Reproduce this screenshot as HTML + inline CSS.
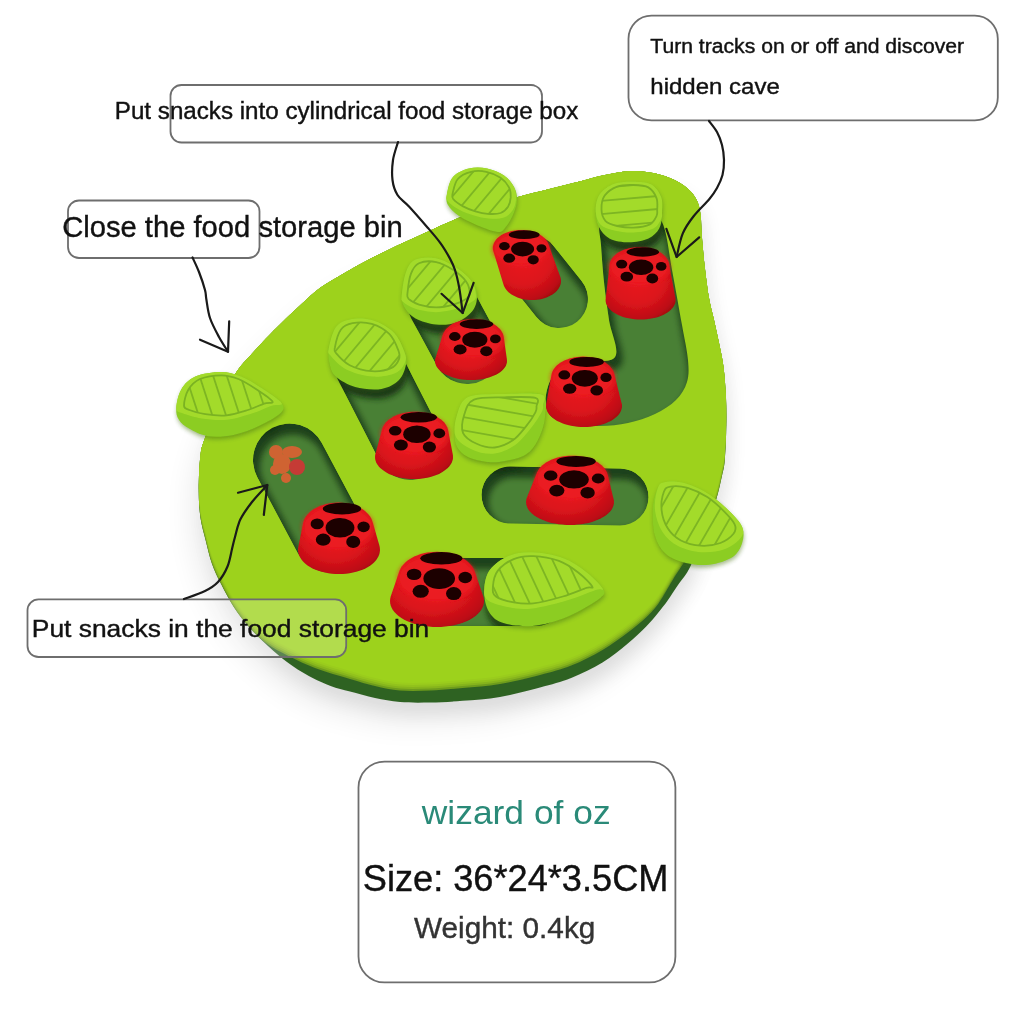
<!DOCTYPE html><html><head><meta charset="utf-8"><style>html,body{margin:0;padding:0;background:#fff;width:1024px;height:1024px;overflow:hidden}svg{display:block}</style></head><body><svg width="1024" height="1024" viewBox="0 0 1024 1024"><defs>
<linearGradient id="redbody" x1="0" y1="0" x2="1" y2="0.3"><stop offset="0" stop-color="#c80f17"/><stop offset="0.3" stop-color="#e0161e"/><stop offset="0.75" stop-color="#c20e15"/><stop offset="1" stop-color="#8e080d"/></linearGradient>
<radialGradient id="redtop" cx="0.42" cy="0.45" r="0.65"><stop offset="0" stop-color="#f22028"/><stop offset="0.8" stop-color="#e8181f"/><stop offset="1" stop-color="#d0121a"/></radialGradient>
<filter id="blur8" x="-20%" y="-20%" width="140%" height="140%"><feGaussianBlur stdDeviation="9"/></filter>
<filter id="blur14" x="-30%" y="-30%" width="160%" height="160%"><feGaussianBlur stdDeviation="14"/></filter>
<filter id="blur3" x="-20%" y="-20%" width="140%" height="140%"><feGaussianBlur stdDeviation="3"/></filter>
<filter id="blur06" x="-10%" y="-10%" width="120%" height="120%"><feGaussianBlur stdDeviation="0.6"/></filter>
<filter id="blur2" x="-20%" y="-20%" width="140%" height="140%"><feGaussianBlur stdDeviation="2"/></filter>
<radialGradient id="redsil" cx="0.45" cy="0.38" r="0.72"><stop offset="0" stop-color="#ec1a22"/><stop offset="0.55" stop-color="#dc141c"/><stop offset="0.85" stop-color="#bd0d14"/><stop offset="1" stop-color="#96080c"/></radialGradient>
<clipPath id="boardclip"><path d="M 198.7,490.0 C 198.7,479.5 199.4,463.7 200.5,455.0 C 201.6,446.3 202.3,446.1 205.2,437.6 C 208.1,429.1 212.7,415.0 218.0,404.0 C 223.3,393.0 231.3,379.6 236.8,371.4 C 242.3,363.2 245.9,360.4 250.8,354.9 C 255.7,349.4 260.7,343.9 266.0,338.4 C 271.3,332.9 276.6,327.6 282.5,321.9 C 288.4,316.2 295.2,309.7 301.6,304.0 C 308.0,298.3 313.3,292.9 320.6,287.6 C 327.9,282.4 337.0,277.3 345.4,272.5 C 353.8,267.7 362.3,263.0 370.8,258.6 C 379.3,254.2 387.7,249.9 396.2,245.9 C 404.7,241.9 413.1,238.2 421.6,234.4 C 430.1,230.6 436.8,227.4 447.0,223.0 C 457.2,218.6 471.2,212.3 483.0,208.0 C 494.8,203.7 506.9,200.1 518.0,196.9 C 529.1,193.7 539.0,191.6 549.4,189.0 C 559.8,186.4 571.3,183.6 580.6,181.2 C 589.9,178.9 596.6,176.7 605.0,175.0 C 613.4,173.3 622.7,171.3 631.0,171.0 C 639.3,170.7 647.4,171.8 654.7,173.3 C 662.0,174.9 669.3,177.6 675.0,180.3 C 680.7,183.0 685.4,186.3 689.0,189.7 C 692.6,193.1 695.0,196.5 696.9,200.6 C 698.8,204.7 699.6,207.8 700.5,214.0 C 701.4,220.2 701.2,228.8 702.0,238.0 C 702.8,247.2 703.8,259.0 705.0,269.0 C 706.2,279.0 707.5,289.5 709.0,298.0 C 710.5,306.5 712.3,312.5 714.0,320.0 C 715.7,327.5 717.4,335.2 719.0,343.0 C 720.6,350.8 722.3,357.8 723.5,367.0 C 724.7,376.2 725.5,387.6 726.0,398.0 C 726.5,408.4 726.5,419.0 726.2,429.4 C 726.0,439.8 725.4,452.8 724.7,460.6 C 724.0,468.4 723.4,469.4 721.9,476.0 C 720.4,482.6 718.8,491.5 716.0,500.0 C 713.2,508.5 710.3,516.7 705.0,527.0 C 699.7,537.3 689.7,553.0 684.4,561.6 C 679.1,570.2 677.7,571.9 673.4,578.8 C 669.1,585.6 663.3,596.6 658.8,603.0 C 654.2,609.4 651.5,612.2 646.2,617.2 C 641.0,622.2 634.8,627.3 627.5,632.8 C 620.2,638.3 611.9,644.5 602.5,650.0 C 593.1,655.5 581.7,661.4 571.2,665.6 C 560.8,669.8 551.9,671.9 540.0,675.0 C 528.1,678.1 512.9,681.8 500.0,684.0 C 487.1,686.2 474.2,686.9 462.5,688.0 C 450.8,689.1 440.4,690.1 430.0,690.5 C 419.6,690.9 409.2,691.2 400.0,690.5 C 390.8,689.8 383.3,687.9 375.0,686.0 C 366.7,684.1 360.0,682.0 350.0,679.0 C 340.0,676.0 326.0,672.2 315.0,668.0 C 304.0,663.8 291.9,657.7 283.8,653.5 C 275.6,649.3 271.7,647.3 266.0,643.0 C 260.3,638.7 254.8,633.5 249.4,627.5 C 244.0,621.5 238.5,614.3 233.8,607.0 C 229.1,599.7 224.7,591.1 221.0,583.8 C 217.3,576.5 214.5,570.7 211.9,563.4 C 209.3,556.1 207.5,547.6 205.6,540.0 C 203.7,532.4 201.7,526.3 200.5,518.0 C 199.3,509.7 198.7,500.5 198.7,490.0 Z"/></clipPath>
<filter id="soft" filterUnits="userSpaceOnUse" x="0" y="0" width="1024" height="1024"><feGaussianBlur stdDeviation="0.55"/></filter>
</defs>
<path d="M 198.7,490.0 C 198.7,479.5 199.4,463.7 200.5,455.0 C 201.6,446.3 202.3,446.1 205.2,437.6 C 208.1,429.1 212.7,415.0 218.0,404.0 C 223.3,393.0 231.3,379.6 236.8,371.4 C 242.3,363.2 245.9,360.4 250.8,354.9 C 255.7,349.4 260.7,343.9 266.0,338.4 C 271.3,332.9 276.6,327.6 282.5,321.9 C 288.4,316.2 295.2,309.7 301.6,304.0 C 308.0,298.3 313.3,292.9 320.6,287.6 C 327.9,282.4 337.0,277.3 345.4,272.5 C 353.8,267.7 362.3,263.0 370.8,258.6 C 379.3,254.2 387.7,249.9 396.2,245.9 C 404.7,241.9 413.1,238.2 421.6,234.4 C 430.1,230.6 436.8,227.4 447.0,223.0 C 457.2,218.6 471.2,212.3 483.0,208.0 C 494.8,203.7 506.9,200.1 518.0,196.9 C 529.1,193.7 539.0,191.6 549.4,189.0 C 559.8,186.4 571.3,183.6 580.6,181.2 C 589.9,178.9 596.6,176.7 605.0,175.0 C 613.4,173.3 622.7,171.3 631.0,171.0 C 639.3,170.7 647.4,171.8 654.7,173.3 C 662.0,174.9 669.3,177.6 675.0,180.3 C 680.7,183.0 685.4,186.3 689.0,189.7 C 692.6,193.1 695.0,196.5 696.9,200.6 C 698.8,204.7 699.6,207.8 700.5,214.0 C 701.4,220.2 701.2,228.8 702.0,238.0 C 702.8,247.2 703.8,259.0 705.0,269.0 C 706.2,279.0 707.5,289.5 709.0,298.0 C 710.5,306.5 712.3,312.5 714.0,320.0 C 715.7,327.5 717.4,335.2 719.0,343.0 C 720.6,350.8 722.3,357.8 723.5,367.0 C 724.7,376.2 725.5,387.6 726.0,398.0 C 726.5,408.4 726.5,419.0 726.2,429.4 C 726.0,439.8 725.4,452.8 724.7,460.6 C 724.0,468.4 723.4,469.4 721.9,476.0 C 720.4,482.6 718.8,491.5 716.0,500.0 C 713.2,508.5 709.2,516.0 705.0,527.0 C 700.8,538.0 695.1,556.3 690.6,566.0 C 686.1,575.7 681.8,579.3 678.0,585.0 C 674.2,590.7 671.3,595.3 668.0,600.0 C 664.7,604.7 661.6,608.6 658.0,613.0 C 654.4,617.4 651.3,621.4 646.2,626.5 C 641.2,631.6 634.8,637.8 627.5,643.8 C 620.2,649.8 611.9,656.8 602.5,662.5 C 593.1,668.2 581.7,673.8 571.2,678.0 C 560.8,682.2 551.9,684.3 540.0,687.5 C 528.1,690.7 512.9,694.8 500.0,697.0 C 487.1,699.2 474.2,699.9 462.5,700.8 C 450.8,701.7 440.4,702.3 430.0,702.5 C 419.6,702.7 409.2,702.8 400.0,702.0 C 390.8,701.2 383.3,699.7 375.0,698.0 C 366.7,696.3 357.4,693.6 350.0,691.6 C 342.6,689.6 337.5,688.6 330.6,686.0 C 323.7,683.4 316.0,680.0 308.8,676.0 C 301.5,672.0 293.8,667.0 287.0,662.0 C 280.2,657.0 274.3,651.8 268.0,646.0 C 261.7,640.2 255.1,634.0 249.4,627.5 C 243.7,621.0 238.5,614.3 233.8,607.0 C 229.1,599.7 224.7,591.1 221.0,583.8 C 217.3,576.5 214.5,570.7 211.9,563.4 C 209.3,556.1 207.5,547.6 205.6,540.0 C 203.7,532.4 201.7,526.3 200.5,518.0 C 199.3,509.7 198.7,500.5 198.7,490.0 Z" fill="#000" opacity="0.07" transform="translate(-8,22)" filter="url(#blur14)"/>
<path d="M 198.7,490.0 C 198.7,479.5 199.4,463.7 200.5,455.0 C 201.6,446.3 202.3,446.1 205.2,437.6 C 208.1,429.1 212.7,415.0 218.0,404.0 C 223.3,393.0 231.3,379.6 236.8,371.4 C 242.3,363.2 245.9,360.4 250.8,354.9 C 255.7,349.4 260.7,343.9 266.0,338.4 C 271.3,332.9 276.6,327.6 282.5,321.9 C 288.4,316.2 295.2,309.7 301.6,304.0 C 308.0,298.3 313.3,292.9 320.6,287.6 C 327.9,282.4 337.0,277.3 345.4,272.5 C 353.8,267.7 362.3,263.0 370.8,258.6 C 379.3,254.2 387.7,249.9 396.2,245.9 C 404.7,241.9 413.1,238.2 421.6,234.4 C 430.1,230.6 436.8,227.4 447.0,223.0 C 457.2,218.6 471.2,212.3 483.0,208.0 C 494.8,203.7 506.9,200.1 518.0,196.9 C 529.1,193.7 539.0,191.6 549.4,189.0 C 559.8,186.4 571.3,183.6 580.6,181.2 C 589.9,178.9 596.6,176.7 605.0,175.0 C 613.4,173.3 622.7,171.3 631.0,171.0 C 639.3,170.7 647.4,171.8 654.7,173.3 C 662.0,174.9 669.3,177.6 675.0,180.3 C 680.7,183.0 685.4,186.3 689.0,189.7 C 692.6,193.1 695.0,196.5 696.9,200.6 C 698.8,204.7 699.6,207.8 700.5,214.0 C 701.4,220.2 701.2,228.8 702.0,238.0 C 702.8,247.2 703.8,259.0 705.0,269.0 C 706.2,279.0 707.5,289.5 709.0,298.0 C 710.5,306.5 712.3,312.5 714.0,320.0 C 715.7,327.5 717.4,335.2 719.0,343.0 C 720.6,350.8 722.3,357.8 723.5,367.0 C 724.7,376.2 725.5,387.6 726.0,398.0 C 726.5,408.4 726.5,419.0 726.2,429.4 C 726.0,439.8 725.4,452.8 724.7,460.6 C 724.0,468.4 723.4,469.4 721.9,476.0 C 720.4,482.6 718.8,491.5 716.0,500.0 C 713.2,508.5 709.2,516.0 705.0,527.0 C 700.8,538.0 695.1,556.3 690.6,566.0 C 686.1,575.7 681.8,579.3 678.0,585.0 C 674.2,590.7 671.3,595.3 668.0,600.0 C 664.7,604.7 661.6,608.6 658.0,613.0 C 654.4,617.4 651.3,621.4 646.2,626.5 C 641.2,631.6 634.8,637.8 627.5,643.8 C 620.2,649.8 611.9,656.8 602.5,662.5 C 593.1,668.2 581.7,673.8 571.2,678.0 C 560.8,682.2 551.9,684.3 540.0,687.5 C 528.1,690.7 512.9,694.8 500.0,697.0 C 487.1,699.2 474.2,699.9 462.5,700.8 C 450.8,701.7 440.4,702.3 430.0,702.5 C 419.6,702.7 409.2,702.8 400.0,702.0 C 390.8,701.2 383.3,699.7 375.0,698.0 C 366.7,696.3 357.4,693.6 350.0,691.6 C 342.6,689.6 337.5,688.6 330.6,686.0 C 323.7,683.4 316.0,680.0 308.8,676.0 C 301.5,672.0 293.8,667.0 287.0,662.0 C 280.2,657.0 274.3,651.8 268.0,646.0 C 261.7,640.2 255.1,634.0 249.4,627.5 C 243.7,621.0 238.5,614.3 233.8,607.0 C 229.1,599.7 224.7,591.1 221.0,583.8 C 217.3,576.5 214.5,570.7 211.9,563.4 C 209.3,556.1 207.5,547.6 205.6,540.0 C 203.7,532.4 201.7,526.3 200.5,518.0 C 199.3,509.7 198.7,500.5 198.7,490.0 Z" fill="#000" opacity="0.07" transform="translate(5,12)" filter="url(#blur8)"/>
<g filter="url(#soft)">
<path d="M 198.7,490.0 C 198.7,479.5 199.4,463.7 200.5,455.0 C 201.6,446.3 202.3,446.1 205.2,437.6 C 208.1,429.1 212.7,415.0 218.0,404.0 C 223.3,393.0 231.3,379.6 236.8,371.4 C 242.3,363.2 245.9,360.4 250.8,354.9 C 255.7,349.4 260.7,343.9 266.0,338.4 C 271.3,332.9 276.6,327.6 282.5,321.9 C 288.4,316.2 295.2,309.7 301.6,304.0 C 308.0,298.3 313.3,292.9 320.6,287.6 C 327.9,282.4 337.0,277.3 345.4,272.5 C 353.8,267.7 362.3,263.0 370.8,258.6 C 379.3,254.2 387.7,249.9 396.2,245.9 C 404.7,241.9 413.1,238.2 421.6,234.4 C 430.1,230.6 436.8,227.4 447.0,223.0 C 457.2,218.6 471.2,212.3 483.0,208.0 C 494.8,203.7 506.9,200.1 518.0,196.9 C 529.1,193.7 539.0,191.6 549.4,189.0 C 559.8,186.4 571.3,183.6 580.6,181.2 C 589.9,178.9 596.6,176.7 605.0,175.0 C 613.4,173.3 622.7,171.3 631.0,171.0 C 639.3,170.7 647.4,171.8 654.7,173.3 C 662.0,174.9 669.3,177.6 675.0,180.3 C 680.7,183.0 685.4,186.3 689.0,189.7 C 692.6,193.1 695.0,196.5 696.9,200.6 C 698.8,204.7 699.6,207.8 700.5,214.0 C 701.4,220.2 701.2,228.8 702.0,238.0 C 702.8,247.2 703.8,259.0 705.0,269.0 C 706.2,279.0 707.5,289.5 709.0,298.0 C 710.5,306.5 712.3,312.5 714.0,320.0 C 715.7,327.5 717.4,335.2 719.0,343.0 C 720.6,350.8 722.3,357.8 723.5,367.0 C 724.7,376.2 725.5,387.6 726.0,398.0 C 726.5,408.4 726.5,419.0 726.2,429.4 C 726.0,439.8 725.4,452.8 724.7,460.6 C 724.0,468.4 723.4,469.4 721.9,476.0 C 720.4,482.6 718.8,491.5 716.0,500.0 C 713.2,508.5 709.2,516.0 705.0,527.0 C 700.8,538.0 695.1,556.3 690.6,566.0 C 686.1,575.7 681.8,579.3 678.0,585.0 C 674.2,590.7 671.3,595.3 668.0,600.0 C 664.7,604.7 661.6,608.6 658.0,613.0 C 654.4,617.4 651.3,621.4 646.2,626.5 C 641.2,631.6 634.8,637.8 627.5,643.8 C 620.2,649.8 611.9,656.8 602.5,662.5 C 593.1,668.2 581.7,673.8 571.2,678.0 C 560.8,682.2 551.9,684.3 540.0,687.5 C 528.1,690.7 512.9,694.8 500.0,697.0 C 487.1,699.2 474.2,699.9 462.5,700.8 C 450.8,701.7 440.4,702.3 430.0,702.5 C 419.6,702.7 409.2,702.8 400.0,702.0 C 390.8,701.2 383.3,699.7 375.0,698.0 C 366.7,696.3 357.4,693.6 350.0,691.6 C 342.6,689.6 337.5,688.6 330.6,686.0 C 323.7,683.4 316.0,680.0 308.8,676.0 C 301.5,672.0 293.8,667.0 287.0,662.0 C 280.2,657.0 274.3,651.8 268.0,646.0 C 261.7,640.2 255.1,634.0 249.4,627.5 C 243.7,621.0 238.5,614.3 233.8,607.0 C 229.1,599.7 224.7,591.1 221.0,583.8 C 217.3,576.5 214.5,570.7 211.9,563.4 C 209.3,556.1 207.5,547.6 205.6,540.0 C 203.7,532.4 201.7,526.3 200.5,518.0 C 199.3,509.7 198.7,500.5 198.7,490.0 Z" fill="#2f6224"/>
<path d="M 198.7,490.0 C 198.7,479.5 199.4,463.7 200.5,455.0 C 201.6,446.3 202.3,446.1 205.2,437.6 C 208.1,429.1 212.7,415.0 218.0,404.0 C 223.3,393.0 231.3,379.6 236.8,371.4 C 242.3,363.2 245.9,360.4 250.8,354.9 C 255.7,349.4 260.7,343.9 266.0,338.4 C 271.3,332.9 276.6,327.6 282.5,321.9 C 288.4,316.2 295.2,309.7 301.6,304.0 C 308.0,298.3 313.3,292.9 320.6,287.6 C 327.9,282.4 337.0,277.3 345.4,272.5 C 353.8,267.7 362.3,263.0 370.8,258.6 C 379.3,254.2 387.7,249.9 396.2,245.9 C 404.7,241.9 413.1,238.2 421.6,234.4 C 430.1,230.6 436.8,227.4 447.0,223.0 C 457.2,218.6 471.2,212.3 483.0,208.0 C 494.8,203.7 506.9,200.1 518.0,196.9 C 529.1,193.7 539.0,191.6 549.4,189.0 C 559.8,186.4 571.3,183.6 580.6,181.2 C 589.9,178.9 596.6,176.7 605.0,175.0 C 613.4,173.3 622.7,171.3 631.0,171.0 C 639.3,170.7 647.4,171.8 654.7,173.3 C 662.0,174.9 669.3,177.6 675.0,180.3 C 680.7,183.0 685.4,186.3 689.0,189.7 C 692.6,193.1 695.0,196.5 696.9,200.6 C 698.8,204.7 699.6,207.8 700.5,214.0 C 701.4,220.2 701.2,228.8 702.0,238.0 C 702.8,247.2 703.8,259.0 705.0,269.0 C 706.2,279.0 707.5,289.5 709.0,298.0 C 710.5,306.5 712.3,312.5 714.0,320.0 C 715.7,327.5 717.4,335.2 719.0,343.0 C 720.6,350.8 722.3,357.8 723.5,367.0 C 724.7,376.2 725.5,387.6 726.0,398.0 C 726.5,408.4 726.5,419.0 726.2,429.4 C 726.0,439.8 725.4,452.8 724.7,460.6 C 724.0,468.4 723.4,469.4 721.9,476.0 C 720.4,482.6 718.8,491.5 716.0,500.0 C 713.2,508.5 710.3,516.7 705.0,527.0 C 699.7,537.3 689.7,553.0 684.4,561.6 C 679.1,570.2 677.7,571.9 673.4,578.8 C 669.1,585.6 663.3,596.6 658.8,603.0 C 654.2,609.4 651.5,612.2 646.2,617.2 C 641.0,622.2 634.8,627.3 627.5,632.8 C 620.2,638.3 611.9,644.5 602.5,650.0 C 593.1,655.5 581.7,661.4 571.2,665.6 C 560.8,669.8 551.9,671.9 540.0,675.0 C 528.1,678.1 512.9,681.8 500.0,684.0 C 487.1,686.2 474.2,686.9 462.5,688.0 C 450.8,689.1 440.4,690.1 430.0,690.5 C 419.6,690.9 409.2,691.2 400.0,690.5 C 390.8,689.8 383.3,687.9 375.0,686.0 C 366.7,684.1 360.0,682.0 350.0,679.0 C 340.0,676.0 326.0,672.2 315.0,668.0 C 304.0,663.8 291.9,657.7 283.8,653.5 C 275.6,649.3 271.7,647.3 266.0,643.0 C 260.3,638.7 254.8,633.5 249.4,627.5 C 244.0,621.5 238.5,614.3 233.8,607.0 C 229.1,599.7 224.7,591.1 221.0,583.8 C 217.3,576.5 214.5,570.7 211.9,563.4 C 209.3,556.1 207.5,547.6 205.6,540.0 C 203.7,532.4 201.7,526.3 200.5,518.0 C 199.3,509.7 198.7,500.5 198.7,490.0 Z" fill="#6e9c1c"/>
<g clip-path="url(#boardclip)"><path d="M 198.7,490.0 C 198.7,479.5 199.4,463.7 200.5,455.0 C 201.6,446.3 202.3,446.1 205.2,437.6 C 208.1,429.1 212.7,415.0 218.0,404.0 C 223.3,393.0 231.3,379.6 236.8,371.4 C 242.3,363.2 245.9,360.4 250.8,354.9 C 255.7,349.4 260.7,343.9 266.0,338.4 C 271.3,332.9 276.6,327.6 282.5,321.9 C 288.4,316.2 295.2,309.7 301.6,304.0 C 308.0,298.3 313.3,292.9 320.6,287.6 C 327.9,282.4 337.0,277.3 345.4,272.5 C 353.8,267.7 362.3,263.0 370.8,258.6 C 379.3,254.2 387.7,249.9 396.2,245.9 C 404.7,241.9 413.1,238.2 421.6,234.4 C 430.1,230.6 436.8,227.4 447.0,223.0 C 457.2,218.6 471.2,212.3 483.0,208.0 C 494.8,203.7 506.9,200.1 518.0,196.9 C 529.1,193.7 539.0,191.6 549.4,189.0 C 559.8,186.4 571.3,183.6 580.6,181.2 C 589.9,178.9 596.6,176.7 605.0,175.0 C 613.4,173.3 622.7,171.3 631.0,171.0 C 639.3,170.7 647.4,171.8 654.7,173.3 C 662.0,174.9 669.3,177.6 675.0,180.3 C 680.7,183.0 685.4,186.3 689.0,189.7 C 692.6,193.1 695.0,196.5 696.9,200.6 C 698.8,204.7 699.6,207.8 700.5,214.0 C 701.4,220.2 701.2,228.8 702.0,238.0 C 702.8,247.2 703.8,259.0 705.0,269.0 C 706.2,279.0 707.5,289.5 709.0,298.0 C 710.5,306.5 712.3,312.5 714.0,320.0 C 715.7,327.5 717.4,335.2 719.0,343.0 C 720.6,350.8 722.3,357.8 723.5,367.0 C 724.7,376.2 725.5,387.6 726.0,398.0 C 726.5,408.4 726.5,419.0 726.2,429.4 C 726.0,439.8 725.4,452.8 724.7,460.6 C 724.0,468.4 723.4,469.4 721.9,476.0 C 720.4,482.6 718.8,491.5 716.0,500.0 C 713.2,508.5 710.3,516.7 705.0,527.0 C 699.7,537.3 689.7,553.0 684.4,561.6 C 679.1,570.2 677.7,571.9 673.4,578.8 C 669.1,585.6 663.3,596.6 658.8,603.0 C 654.2,609.4 651.5,612.2 646.2,617.2 C 641.0,622.2 634.8,627.3 627.5,632.8 C 620.2,638.3 611.9,644.5 602.5,650.0 C 593.1,655.5 581.7,661.4 571.2,665.6 C 560.8,669.8 551.9,671.9 540.0,675.0 C 528.1,678.1 512.9,681.8 500.0,684.0 C 487.1,686.2 474.2,686.9 462.5,688.0 C 450.8,689.1 440.4,690.1 430.0,690.5 C 419.6,690.9 409.2,691.2 400.0,690.5 C 390.8,689.8 383.3,687.9 375.0,686.0 C 366.7,684.1 360.0,682.0 350.0,679.0 C 340.0,676.0 326.0,672.2 315.0,668.0 C 304.0,663.8 291.9,657.7 283.8,653.5 C 275.6,649.3 271.7,647.3 266.0,643.0 C 260.3,638.7 254.8,633.5 249.4,627.5 C 244.0,621.5 238.5,614.3 233.8,607.0 C 229.1,599.7 224.7,591.1 221.0,583.8 C 217.3,576.5 214.5,570.7 211.9,563.4 C 209.3,556.1 207.5,547.6 205.6,540.0 C 203.7,532.4 201.7,526.3 200.5,518.0 C 199.3,509.7 198.7,500.5 198.7,490.0 Z" fill="#86b41d" transform="translate(0,-2)"/><path d="M 198.7,490.0 C 198.7,479.5 199.4,463.7 200.5,455.0 C 201.6,446.3 202.3,446.1 205.2,437.6 C 208.1,429.1 212.7,415.0 218.0,404.0 C 223.3,393.0 231.3,379.6 236.8,371.4 C 242.3,363.2 245.9,360.4 250.8,354.9 C 255.7,349.4 260.7,343.9 266.0,338.4 C 271.3,332.9 276.6,327.6 282.5,321.9 C 288.4,316.2 295.2,309.7 301.6,304.0 C 308.0,298.3 313.3,292.9 320.6,287.6 C 327.9,282.4 337.0,277.3 345.4,272.5 C 353.8,267.7 362.3,263.0 370.8,258.6 C 379.3,254.2 387.7,249.9 396.2,245.9 C 404.7,241.9 413.1,238.2 421.6,234.4 C 430.1,230.6 436.8,227.4 447.0,223.0 C 457.2,218.6 471.2,212.3 483.0,208.0 C 494.8,203.7 506.9,200.1 518.0,196.9 C 529.1,193.7 539.0,191.6 549.4,189.0 C 559.8,186.4 571.3,183.6 580.6,181.2 C 589.9,178.9 596.6,176.7 605.0,175.0 C 613.4,173.3 622.7,171.3 631.0,171.0 C 639.3,170.7 647.4,171.8 654.7,173.3 C 662.0,174.9 669.3,177.6 675.0,180.3 C 680.7,183.0 685.4,186.3 689.0,189.7 C 692.6,193.1 695.0,196.5 696.9,200.6 C 698.8,204.7 699.6,207.8 700.5,214.0 C 701.4,220.2 701.2,228.8 702.0,238.0 C 702.8,247.2 703.8,259.0 705.0,269.0 C 706.2,279.0 707.5,289.5 709.0,298.0 C 710.5,306.5 712.3,312.5 714.0,320.0 C 715.7,327.5 717.4,335.2 719.0,343.0 C 720.6,350.8 722.3,357.8 723.5,367.0 C 724.7,376.2 725.5,387.6 726.0,398.0 C 726.5,408.4 726.5,419.0 726.2,429.4 C 726.0,439.8 725.4,452.8 724.7,460.6 C 724.0,468.4 723.4,469.4 721.9,476.0 C 720.4,482.6 718.8,491.5 716.0,500.0 C 713.2,508.5 710.3,516.7 705.0,527.0 C 699.7,537.3 689.7,553.0 684.4,561.6 C 679.1,570.2 677.7,571.9 673.4,578.8 C 669.1,585.6 663.3,596.6 658.8,603.0 C 654.2,609.4 651.5,612.2 646.2,617.2 C 641.0,622.2 634.8,627.3 627.5,632.8 C 620.2,638.3 611.9,644.5 602.5,650.0 C 593.1,655.5 581.7,661.4 571.2,665.6 C 560.8,669.8 551.9,671.9 540.0,675.0 C 528.1,678.1 512.9,681.8 500.0,684.0 C 487.1,686.2 474.2,686.9 462.5,688.0 C 450.8,689.1 440.4,690.1 430.0,690.5 C 419.6,690.9 409.2,691.2 400.0,690.5 C 390.8,689.8 383.3,687.9 375.0,686.0 C 366.7,684.1 360.0,682.0 350.0,679.0 C 340.0,676.0 326.0,672.2 315.0,668.0 C 304.0,663.8 291.9,657.7 283.8,653.5 C 275.6,649.3 271.7,647.3 266.0,643.0 C 260.3,638.7 254.8,633.5 249.4,627.5 C 244.0,621.5 238.5,614.3 233.8,607.0 C 229.1,599.7 224.7,591.1 221.0,583.8 C 217.3,576.5 214.5,570.7 211.9,563.4 C 209.3,556.1 207.5,547.6 205.6,540.0 C 203.7,532.4 201.7,526.3 200.5,518.0 C 199.3,509.7 198.7,500.5 198.7,490.0 Z" fill="#92c21e" transform="translate(0,-4)"/><path d="M 198.7,490.0 C 198.7,479.5 199.4,463.7 200.5,455.0 C 201.6,446.3 202.3,446.1 205.2,437.6 C 208.1,429.1 212.7,415.0 218.0,404.0 C 223.3,393.0 231.3,379.6 236.8,371.4 C 242.3,363.2 245.9,360.4 250.8,354.9 C 255.7,349.4 260.7,343.9 266.0,338.4 C 271.3,332.9 276.6,327.6 282.5,321.9 C 288.4,316.2 295.2,309.7 301.6,304.0 C 308.0,298.3 313.3,292.9 320.6,287.6 C 327.9,282.4 337.0,277.3 345.4,272.5 C 353.8,267.7 362.3,263.0 370.8,258.6 C 379.3,254.2 387.7,249.9 396.2,245.9 C 404.7,241.9 413.1,238.2 421.6,234.4 C 430.1,230.6 436.8,227.4 447.0,223.0 C 457.2,218.6 471.2,212.3 483.0,208.0 C 494.8,203.7 506.9,200.1 518.0,196.9 C 529.1,193.7 539.0,191.6 549.4,189.0 C 559.8,186.4 571.3,183.6 580.6,181.2 C 589.9,178.9 596.6,176.7 605.0,175.0 C 613.4,173.3 622.7,171.3 631.0,171.0 C 639.3,170.7 647.4,171.8 654.7,173.3 C 662.0,174.9 669.3,177.6 675.0,180.3 C 680.7,183.0 685.4,186.3 689.0,189.7 C 692.6,193.1 695.0,196.5 696.9,200.6 C 698.8,204.7 699.6,207.8 700.5,214.0 C 701.4,220.2 701.2,228.8 702.0,238.0 C 702.8,247.2 703.8,259.0 705.0,269.0 C 706.2,279.0 707.5,289.5 709.0,298.0 C 710.5,306.5 712.3,312.5 714.0,320.0 C 715.7,327.5 717.4,335.2 719.0,343.0 C 720.6,350.8 722.3,357.8 723.5,367.0 C 724.7,376.2 725.5,387.6 726.0,398.0 C 726.5,408.4 726.5,419.0 726.2,429.4 C 726.0,439.8 725.4,452.8 724.7,460.6 C 724.0,468.4 723.4,469.4 721.9,476.0 C 720.4,482.6 718.8,491.5 716.0,500.0 C 713.2,508.5 710.3,516.7 705.0,527.0 C 699.7,537.3 689.7,553.0 684.4,561.6 C 679.1,570.2 677.7,571.9 673.4,578.8 C 669.1,585.6 663.3,596.6 658.8,603.0 C 654.2,609.4 651.5,612.2 646.2,617.2 C 641.0,622.2 634.8,627.3 627.5,632.8 C 620.2,638.3 611.9,644.5 602.5,650.0 C 593.1,655.5 581.7,661.4 571.2,665.6 C 560.8,669.8 551.9,671.9 540.0,675.0 C 528.1,678.1 512.9,681.8 500.0,684.0 C 487.1,686.2 474.2,686.9 462.5,688.0 C 450.8,689.1 440.4,690.1 430.0,690.5 C 419.6,690.9 409.2,691.2 400.0,690.5 C 390.8,689.8 383.3,687.9 375.0,686.0 C 366.7,684.1 360.0,682.0 350.0,679.0 C 340.0,676.0 326.0,672.2 315.0,668.0 C 304.0,663.8 291.9,657.7 283.8,653.5 C 275.6,649.3 271.7,647.3 266.0,643.0 C 260.3,638.7 254.8,633.5 249.4,627.5 C 244.0,621.5 238.5,614.3 233.8,607.0 C 229.1,599.7 224.7,591.1 221.0,583.8 C 217.3,576.5 214.5,570.7 211.9,563.4 C 209.3,556.1 207.5,547.6 205.6,540.0 C 203.7,532.4 201.7,526.3 200.5,518.0 C 199.3,509.7 198.7,500.5 198.7,490.0 Z" fill="#9acc1f" transform="translate(0,-6)"/><path d="M 198.7,490.0 C 198.7,479.5 199.4,463.7 200.5,455.0 C 201.6,446.3 202.3,446.1 205.2,437.6 C 208.1,429.1 212.7,415.0 218.0,404.0 C 223.3,393.0 231.3,379.6 236.8,371.4 C 242.3,363.2 245.9,360.4 250.8,354.9 C 255.7,349.4 260.7,343.9 266.0,338.4 C 271.3,332.9 276.6,327.6 282.5,321.9 C 288.4,316.2 295.2,309.7 301.6,304.0 C 308.0,298.3 313.3,292.9 320.6,287.6 C 327.9,282.4 337.0,277.3 345.4,272.5 C 353.8,267.7 362.3,263.0 370.8,258.6 C 379.3,254.2 387.7,249.9 396.2,245.9 C 404.7,241.9 413.1,238.2 421.6,234.4 C 430.1,230.6 436.8,227.4 447.0,223.0 C 457.2,218.6 471.2,212.3 483.0,208.0 C 494.8,203.7 506.9,200.1 518.0,196.9 C 529.1,193.7 539.0,191.6 549.4,189.0 C 559.8,186.4 571.3,183.6 580.6,181.2 C 589.9,178.9 596.6,176.7 605.0,175.0 C 613.4,173.3 622.7,171.3 631.0,171.0 C 639.3,170.7 647.4,171.8 654.7,173.3 C 662.0,174.9 669.3,177.6 675.0,180.3 C 680.7,183.0 685.4,186.3 689.0,189.7 C 692.6,193.1 695.0,196.5 696.9,200.6 C 698.8,204.7 699.6,207.8 700.5,214.0 C 701.4,220.2 701.2,228.8 702.0,238.0 C 702.8,247.2 703.8,259.0 705.0,269.0 C 706.2,279.0 707.5,289.5 709.0,298.0 C 710.5,306.5 712.3,312.5 714.0,320.0 C 715.7,327.5 717.4,335.2 719.0,343.0 C 720.6,350.8 722.3,357.8 723.5,367.0 C 724.7,376.2 725.5,387.6 726.0,398.0 C 726.5,408.4 726.5,419.0 726.2,429.4 C 726.0,439.8 725.4,452.8 724.7,460.6 C 724.0,468.4 723.4,469.4 721.9,476.0 C 720.4,482.6 718.8,491.5 716.0,500.0 C 713.2,508.5 710.3,516.7 705.0,527.0 C 699.7,537.3 689.7,553.0 684.4,561.6 C 679.1,570.2 677.7,571.9 673.4,578.8 C 669.1,585.6 663.3,596.6 658.8,603.0 C 654.2,609.4 651.5,612.2 646.2,617.2 C 641.0,622.2 634.8,627.3 627.5,632.8 C 620.2,638.3 611.9,644.5 602.5,650.0 C 593.1,655.5 581.7,661.4 571.2,665.6 C 560.8,669.8 551.9,671.9 540.0,675.0 C 528.1,678.1 512.9,681.8 500.0,684.0 C 487.1,686.2 474.2,686.9 462.5,688.0 C 450.8,689.1 440.4,690.1 430.0,690.5 C 419.6,690.9 409.2,691.2 400.0,690.5 C 390.8,689.8 383.3,687.9 375.0,686.0 C 366.7,684.1 360.0,682.0 350.0,679.0 C 340.0,676.0 326.0,672.2 315.0,668.0 C 304.0,663.8 291.9,657.7 283.8,653.5 C 275.6,649.3 271.7,647.3 266.0,643.0 C 260.3,638.7 254.8,633.5 249.4,627.5 C 244.0,621.5 238.5,614.3 233.8,607.0 C 229.1,599.7 224.7,591.1 221.0,583.8 C 217.3,576.5 214.5,570.7 211.9,563.4 C 209.3,556.1 207.5,547.6 205.6,540.0 C 203.7,532.4 201.7,526.3 200.5,518.0 C 199.3,509.7 198.7,500.5 198.7,490.0 Z" fill="#9dd21e" transform="translate(0,-8)"/></g>
<mask id="slotmask" maskUnits="userSpaceOnUse" x="0" y="0" width="1024" height="1024"><line x1="289.5" y1="460" x2="330" y2="536" stroke="#fff" stroke-width="73" stroke-linecap="round" /><line x1="368" y1="364" x2="410" y2="446" stroke="#fff" stroke-width="68" stroke-linecap="round" /><line x1="441" y1="302" x2="467" y2="350" stroke="#fff" stroke-width="68" stroke-linecap="round" /><line x1="531" y1="264" x2="559" y2="299" stroke="#fff" stroke-width="58" stroke-linecap="round" /><line x1="510" y1="495" x2="620" y2="497" stroke="#fff" stroke-width="57" stroke-linecap="round" /><line x1="440" y1="592" x2="535" y2="592" stroke="#fff" stroke-width="68" stroke-linecap="round" /><path d="M 600.0,222.0 C 602.3,215.8 608.3,210.7 615.0,208.0 C 621.7,205.3 632.2,203.7 640.0,206.0 C 647.8,208.3 656.7,211.3 662.0,222.0 C 667.3,232.7 668.7,252.8 672.0,270.0 C 675.3,287.2 679.3,310.0 682.0,325.0 C 684.7,340.0 687.2,350.5 688.0,360.0 C 688.8,369.5 689.0,375.3 687.0,382.0 C 685.0,388.7 681.3,394.7 676.0,400.0 C 670.7,405.3 663.0,410.2 655.0,414.0 C 647.0,417.8 637.2,421.0 628.0,423.0 C 618.8,425.0 609.7,425.8 600.0,426.0 C 590.3,426.2 578.3,425.8 570.0,424.0 C 561.7,422.2 554.0,419.8 550.0,415.0 C 546.0,410.2 545.0,402.2 546.0,395.0 C 547.0,387.8 550.3,377.5 556.0,372.0 C 561.7,366.5 570.2,364.5 580.0,362.0 C 589.8,359.5 610.2,364.0 615.0,357.0 C 619.8,350.0 610.8,332.5 609.0,320.0 C 607.2,307.5 605.3,294.5 604.0,282.0 C 602.7,269.5 601.7,255.0 601.0,245.0 C 600.3,235.0 597.7,228.2 600.0,222.0 Z" fill="#fff"/></mask>
<g clip-path="url(#boardclip)"><g mask="url(#slotmask)"><line x1="289.5" y1="460" x2="330" y2="536" stroke="#1f421c" stroke-width="73" stroke-linecap="round" /><line x1="368" y1="364" x2="410" y2="446" stroke="#1f421c" stroke-width="68" stroke-linecap="round" /><line x1="441" y1="302" x2="467" y2="350" stroke="#1f421c" stroke-width="68" stroke-linecap="round" /><line x1="531" y1="264" x2="559" y2="299" stroke="#1f421c" stroke-width="58" stroke-linecap="round" /><line x1="510" y1="495" x2="620" y2="497" stroke="#1f421c" stroke-width="57" stroke-linecap="round" /><line x1="440" y1="592" x2="535" y2="592" stroke="#1f421c" stroke-width="68" stroke-linecap="round" /><path d="M 600.0,222.0 C 602.3,215.8 608.3,210.7 615.0,208.0 C 621.7,205.3 632.2,203.7 640.0,206.0 C 647.8,208.3 656.7,211.3 662.0,222.0 C 667.3,232.7 668.7,252.8 672.0,270.0 C 675.3,287.2 679.3,310.0 682.0,325.0 C 684.7,340.0 687.2,350.5 688.0,360.0 C 688.8,369.5 689.0,375.3 687.0,382.0 C 685.0,388.7 681.3,394.7 676.0,400.0 C 670.7,405.3 663.0,410.2 655.0,414.0 C 647.0,417.8 637.2,421.0 628.0,423.0 C 618.8,425.0 609.7,425.8 600.0,426.0 C 590.3,426.2 578.3,425.8 570.0,424.0 C 561.7,422.2 554.0,419.8 550.0,415.0 C 546.0,410.2 545.0,402.2 546.0,395.0 C 547.0,387.8 550.3,377.5 556.0,372.0 C 561.7,366.5 570.2,364.5 580.0,362.0 C 589.8,359.5 610.2,364.0 615.0,357.0 C 619.8,350.0 610.8,332.5 609.0,320.0 C 607.2,307.5 605.3,294.5 604.0,282.0 C 602.7,269.5 601.7,255.0 601.0,245.0 C 600.3,235.0 597.7,228.2 600.0,222.0 Z" fill="#1f421c"/><g filter="url(#blur3)"><line x1="292.5" y1="467" x2="333" y2="543" stroke="#4a8035" stroke-width="65" stroke-linecap="round" /><line x1="371" y1="371" x2="413" y2="453" stroke="#4a8035" stroke-width="60" stroke-linecap="round" /><line x1="444" y1="309" x2="470" y2="357" stroke="#4a8035" stroke-width="60" stroke-linecap="round" /><line x1="534" y1="271" x2="562" y2="306" stroke="#4a8035" stroke-width="50" stroke-linecap="round" /><line x1="513" y1="502" x2="623" y2="504" stroke="#4a8035" stroke-width="49" stroke-linecap="round" /><line x1="443" y1="599" x2="538" y2="599" stroke="#4a8035" stroke-width="60" stroke-linecap="round" /><path d="M 600.0,222.0 C 602.3,215.8 608.3,210.7 615.0,208.0 C 621.7,205.3 632.2,203.7 640.0,206.0 C 647.8,208.3 656.7,211.3 662.0,222.0 C 667.3,232.7 668.7,252.8 672.0,270.0 C 675.3,287.2 679.3,310.0 682.0,325.0 C 684.7,340.0 687.2,350.5 688.0,360.0 C 688.8,369.5 689.0,375.3 687.0,382.0 C 685.0,388.7 681.3,394.7 676.0,400.0 C 670.7,405.3 663.0,410.2 655.0,414.0 C 647.0,417.8 637.2,421.0 628.0,423.0 C 618.8,425.0 609.7,425.8 600.0,426.0 C 590.3,426.2 578.3,425.8 570.0,424.0 C 561.7,422.2 554.0,419.8 550.0,415.0 C 546.0,410.2 545.0,402.2 546.0,395.0 C 547.0,387.8 550.3,377.5 556.0,372.0 C 561.7,366.5 570.2,364.5 580.0,362.0 C 589.8,359.5 610.2,364.0 615.0,357.0 C 619.8,350.0 610.8,332.5 609.0,320.0 C 607.2,307.5 605.3,294.5 604.0,282.0 C 602.7,269.5 601.7,255.0 601.0,245.0 C 600.3,235.0 597.7,228.2 600.0,222.0 Z" fill="#4a8035" stroke="#1f421c" stroke-width="8" transform="translate(3,7)"/></g>
<path d="M 449.0,203.0 C 449.8,198.3 451.3,190.2 455.0,186.0 C 458.7,181.8 465.3,178.9 471.0,177.5 C 476.7,176.1 483.2,176.3 489.0,177.5 C 494.8,178.7 501.5,181.4 506.0,184.5 C 510.5,187.6 513.8,191.9 516.0,196.0 C 518.2,200.1 519.2,204.3 519.0,209.0 C 518.8,213.7 517.0,219.3 515.0,224.0 C 513.0,228.7 509.5,234.2 507.0,237.0 C 504.5,239.8 504.3,241.3 500.0,241.0 C 495.7,240.7 487.5,237.7 481.0,235.0 C 474.5,232.3 466.2,228.5 461.0,225.0 C 455.8,221.5 452.0,217.7 450.0,214.0 C 448.0,210.3 448.2,207.7 449.0,203.0 Z" fill="#0c200c" opacity="0.8" filter="url(#blur3)"/>
<path d="M 597.7,220.0 C 597.9,214.6 598.5,208.0 601.6,203.4 C 604.7,198.8 610.6,194.8 616.3,192.7 C 622.0,190.6 629.6,190.5 635.8,190.7 C 642.0,190.8 648.8,191.0 653.4,193.6 C 658.0,196.2 661.4,201.4 663.2,206.3 C 665.0,211.2 664.3,217.8 664.0,223.0 C 663.7,228.2 663.5,233.5 661.2,237.6 C 659.0,241.7 655.5,245.1 650.5,247.4 C 645.5,249.7 637.5,251.3 631.0,251.3 C 624.5,251.3 616.4,250.0 611.4,247.4 C 606.4,244.8 603.0,240.2 600.7,235.6 C 598.4,231.0 597.6,225.4 597.7,220.0 Z" fill="#0c200c" opacity="0.8" filter="url(#blur3)"/>
<path d="M 330.8,357.4 C 331.8,351.2 334.3,341.1 337.8,336.3 C 341.3,331.5 345.8,329.6 351.9,328.4 C 358.0,327.2 367.4,327.1 374.7,329.3 C 382.0,331.5 390.5,336.3 395.8,341.6 C 401.1,346.9 404.3,355.7 406.4,361.0 C 408.4,366.3 409.0,368.6 408.1,373.3 C 407.2,378.0 405.1,384.9 401.0,389.0 C 396.9,393.1 390.8,396.7 383.5,397.9 C 376.2,399.1 364.8,398.1 357.2,396.0 C 349.6,393.9 342.1,389.4 337.8,385.6 C 333.6,381.8 332.9,378.0 331.7,373.3 C 330.5,368.6 329.8,363.6 330.8,357.4 Z" fill="#0c200c" opacity="0.8" filter="url(#blur3)"/>
<path d="M 403.8,304.0 C 404.0,298.1 405.7,286.8 408.0,280.9 C 410.3,275.0 412.5,270.9 417.5,268.6 C 422.5,266.3 431.2,265.8 438.0,267.2 C 444.8,268.6 452.6,272.9 458.5,276.8 C 464.4,280.7 470.2,285.9 473.6,290.4 C 477.0,294.9 478.8,299.2 479.0,304.0 C 479.2,308.8 478.4,314.6 475.0,319.2 C 471.6,323.8 464.7,329.1 458.5,331.5 C 452.3,333.9 444.8,334.2 438.0,333.5 C 431.2,332.8 422.7,330.2 417.5,327.4 C 412.3,324.5 408.9,320.3 406.6,316.4 C 404.3,312.5 403.6,309.9 403.8,304.0 Z" fill="#0c200c" opacity="0.8" filter="url(#blur3)"/>
<path d="M 178.3,417.2 C 178.7,412.1 180.2,403.5 183.4,398.2 C 186.6,392.9 190.8,388.4 197.4,385.5 C 204.0,382.6 215.2,381.0 222.8,381.0 C 230.4,381.0 236.2,382.8 243.0,385.5 C 249.8,388.2 256.6,392.6 263.4,397.0 C 270.2,401.4 280.5,408.0 283.7,412.2 C 286.9,416.4 286.2,418.5 282.4,422.3 C 278.6,426.1 268.7,431.4 260.9,435.0 C 253.1,438.6 244.0,442.2 235.5,443.9 C 227.0,445.6 217.4,446.2 210.0,445.2 C 202.6,444.1 195.8,440.4 191.0,437.6 C 186.2,434.9 183.0,432.1 180.9,428.7 C 178.8,425.3 177.9,422.3 178.3,417.2 Z" fill="#0c200c" opacity="0.8" filter="url(#blur3)"/>
<path d="M 459.0,424.0 C 461.3,417.9 462.6,409.3 470.6,405.8 C 478.6,402.3 494.8,403.4 507.0,403.0 C 519.2,402.6 537.0,399.9 543.7,403.7 C 550.4,407.5 547.6,418.4 547.0,426.0 C 546.4,433.6 543.2,442.7 540.0,449.0 C 536.8,455.3 533.0,460.3 527.5,463.8 C 522.0,467.3 513.2,468.8 507.0,470.0 C 500.8,471.2 496.2,471.7 490.0,471.0 C 483.8,470.3 475.2,468.5 470.0,466.0 C 464.8,463.5 461.2,459.9 459.0,456.0 C 456.8,452.1 456.7,447.6 456.7,442.3 C 456.7,437.0 456.7,430.1 459.0,424.0 Z" fill="#0c200c" opacity="0.8" filter="url(#blur3)"/>
<path d="M 667.6,490.9 C 672.3,490.1 680.7,490.3 688.0,492.4 C 695.3,494.5 704.1,498.7 711.4,503.4 C 718.7,508.1 726.2,515.1 731.7,520.6 C 737.2,526.1 742.1,531.0 744.2,536.2 C 746.3,541.4 745.8,546.8 744.2,551.8 C 742.6,556.8 740.3,562.2 734.8,565.9 C 729.3,569.5 719.2,572.7 711.4,573.7 C 703.6,574.7 695.3,573.8 688.0,572.0 C 680.7,570.2 672.8,567.4 667.6,562.8 C 662.4,558.1 658.8,551.8 656.7,544.0 C 654.6,536.2 654.5,523.7 655.0,515.9 C 655.5,508.1 657.7,501.2 659.8,497.0 C 661.9,492.8 662.9,491.7 667.6,490.9 Z" fill="#0c200c" opacity="0.8" filter="url(#blur3)"/>
<path d="M 486.3,597.6 C 486.7,591.0 487.9,584.3 492.0,578.8 C 496.1,573.3 503.9,567.7 511.0,564.8 C 518.0,561.9 525.3,560.9 534.3,561.3 C 543.3,561.7 555.8,563.7 564.8,567.0 C 573.8,570.3 581.6,575.9 588.2,581.0 C 594.8,586.1 602.2,593.3 604.6,597.6 C 607.0,601.9 608.1,602.3 602.3,607.0 C 596.4,611.7 580.8,621.0 569.5,625.7 C 558.2,630.4 545.2,634.0 534.3,635.0 C 523.4,636.0 511.3,634.3 503.9,631.6 C 496.5,628.9 492.7,624.4 489.8,618.7 C 486.9,613.0 485.9,604.2 486.3,597.6 Z" fill="#0c200c" opacity="0.8" filter="url(#blur3)"/>
</g></g>
<path d="M 447.5,196.5 C 448.3,191.8 449.8,183.8 453.5,179.5 C 457.2,175.2 463.8,172.4 469.5,171.0 C 475.2,169.6 481.7,169.8 487.5,171.0 C 493.3,172.2 500.0,174.9 504.5,178.0 C 509.0,181.1 512.3,185.4 514.5,189.5 C 516.7,193.6 517.7,197.8 517.5,202.5 C 517.3,207.2 515.5,212.8 513.5,217.5 C 511.5,222.2 508.0,227.7 505.5,230.5 C 503.0,233.3 502.8,234.8 498.5,234.5 C 494.2,234.2 486.0,231.2 479.5,228.5 C 473.0,225.8 464.7,222.0 459.5,218.5 C 454.3,215.0 450.5,211.2 448.5,207.5 C 446.5,203.8 446.7,201.2 447.5,196.5 Z" fill="#3d6a12" opacity="0.45" filter="url(#blur2)"/>
<path d="M 447.0,194.0 C 447.8,189.3 449.3,181.2 453.0,177.0 C 456.7,172.8 463.3,169.9 469.0,168.5 C 474.7,167.1 481.2,167.3 487.0,168.5 C 492.8,169.7 499.5,172.4 504.0,175.5 C 508.5,178.6 511.8,182.9 514.0,187.0 C 516.2,191.1 517.2,195.3 517.0,200.0 C 516.8,204.7 515.0,210.3 513.0,215.0 C 511.0,219.7 507.5,225.2 505.0,228.0 C 502.5,230.8 502.3,232.3 498.0,232.0 C 493.7,231.7 485.5,228.7 479.0,226.0 C 472.5,223.3 464.2,219.5 459.0,216.0 C 453.8,212.5 450.0,208.7 448.0,205.0 C 446.0,201.3 446.2,198.7 447.0,194.0 Z" fill="#8ccd22"/>
<path d="M 447.0,194.0 C 447.9,190.0 449.3,181.2 453.0,177.0 C 456.7,172.8 463.3,169.9 469.0,168.5 C 474.7,167.1 481.2,167.3 487.0,168.5 C 492.8,169.7 499.5,172.4 504.0,175.5 C 508.5,178.6 512.0,183.1 514.0,187.0 C 516.0,190.9 516.2,195.2 516.0,199.0 C 515.8,202.8 515.0,206.6 513.0,209.7 C 511.0,212.8 508.1,216.0 504.0,217.5 C 499.9,219.0 493.6,218.8 488.6,218.5 C 483.6,218.2 478.9,217.0 474.0,215.5 C 469.1,214.0 463.7,212.1 459.3,209.7 C 454.9,207.3 449.7,203.5 447.6,200.9 C 445.6,198.3 446.1,198.0 447.0,194.0 Z" fill="#a3db2c"/>
<clipPath id="tc0"><path d="M 452.7,193.2 C 453.5,189.9 454.7,182.5 457.8,179.0 C 460.8,175.4 466.4,173.0 471.2,171.8 C 476.0,170.6 481.4,170.8 486.3,171.8 C 491.2,172.8 496.8,175.1 500.6,177.7 C 504.4,180.3 507.3,184.1 509.0,187.4 C 510.7,190.6 510.8,194.3 510.7,197.4 C 510.5,200.6 509.8,203.8 508.2,206.4 C 506.5,209.0 504.0,211.7 500.6,213.0 C 497.2,214.2 491.9,214.1 487.7,213.8 C 483.5,213.5 479.5,212.5 475.4,211.3 C 471.3,210.1 466.8,208.5 463.1,206.4 C 459.4,204.4 455.0,201.2 453.2,199.0 C 451.5,196.8 452.0,196.6 452.7,193.2 Z"/></clipPath>
<g clip-path="url(#tc0)" stroke="#7db523" stroke-width="1.8"><line x1="404.6" y1="233.3" x2="507.4" y2="110.7"/><line x1="414.5" y1="241.6" x2="517.4" y2="119.1"/><line x1="424.5" y1="250.0" x2="527.3" y2="127.4"/><line x1="434.4" y1="258.3" x2="537.3" y2="135.8"/><line x1="444.4" y1="266.7" x2="547.3" y2="144.1"/><line x1="454.4" y1="275.1" x2="557.2" y2="152.5"/><line x1="464.3" y1="283.4" x2="567.2" y2="160.8"/></g>
<path d="M 452.7,193.2 C 453.5,189.9 454.7,182.5 457.8,179.0 C 460.8,175.4 466.4,173.0 471.2,171.8 C 476.0,170.6 481.4,170.8 486.3,171.8 C 491.2,172.8 496.8,175.1 500.6,177.7 C 504.4,180.3 507.3,184.1 509.0,187.4 C 510.7,190.6 510.8,194.3 510.7,197.4 C 510.5,200.6 509.8,203.8 508.2,206.4 C 506.5,209.0 504.0,211.7 500.6,213.0 C 497.2,214.2 491.9,214.1 487.7,213.8 C 483.5,213.5 479.5,212.5 475.4,211.3 C 471.3,210.1 466.8,208.5 463.1,206.4 C 459.4,204.4 455.0,201.2 453.2,199.0 C 451.5,196.8 452.0,196.6 452.7,193.2 Z" fill="none" stroke="#7ab222" stroke-width="1.8"/>
<path d="M 596.2,213.5 C 596.4,208.1 597.0,201.5 600.1,196.9 C 603.2,192.3 609.1,188.3 614.8,186.2 C 620.5,184.1 628.1,184.0 634.3,184.2 C 640.5,184.3 647.3,184.5 651.9,187.1 C 656.5,189.7 659.9,194.9 661.7,199.8 C 663.5,204.7 662.8,211.3 662.5,216.5 C 662.2,221.7 662.0,227.0 659.7,231.1 C 657.5,235.2 654.0,238.6 649.0,240.9 C 644.0,243.2 636.0,244.8 629.5,244.8 C 623.0,244.8 614.9,243.5 609.9,240.9 C 604.9,238.3 601.5,233.7 599.2,229.1 C 596.9,224.5 596.1,218.9 596.2,213.5 Z" fill="#3d6a12" opacity="0.45" filter="url(#blur2)"/>
<path d="M 595.7,211.0 C 595.9,205.6 596.5,199.0 599.6,194.4 C 602.7,189.8 608.6,185.8 614.3,183.7 C 620.0,181.6 627.6,181.5 633.8,181.7 C 640.0,181.8 646.8,182.0 651.4,184.6 C 656.0,187.2 659.4,192.4 661.2,197.3 C 663.0,202.2 662.3,208.8 662.0,214.0 C 661.7,219.2 661.5,224.5 659.2,228.6 C 657.0,232.7 653.5,236.1 648.5,238.4 C 643.5,240.7 635.5,242.3 629.0,242.3 C 622.5,242.3 614.4,241.0 609.4,238.4 C 604.4,235.8 601.0,231.2 598.7,226.6 C 596.4,222.0 595.6,216.4 595.7,211.0 Z" fill="#8ccd22"/>
<path d="M 595.7,211.0 C 595.5,205.9 596.5,199.0 599.6,194.4 C 602.7,189.8 608.6,185.8 614.3,183.7 C 620.0,181.6 627.6,181.5 633.8,181.7 C 640.0,181.8 646.8,182.0 651.4,184.6 C 656.0,187.2 659.4,192.7 661.2,197.3 C 663.0,201.9 662.0,208.4 662.0,212.0 C 662.0,215.6 662.6,216.0 661.2,218.8 C 659.8,221.6 658.0,226.3 653.4,228.6 C 648.8,230.9 640.3,232.2 633.8,232.5 C 627.3,232.8 619.8,231.8 614.3,230.5 C 608.8,229.2 603.7,227.9 600.6,224.7 C 597.5,221.4 595.9,216.1 595.7,211.0 Z" fill="#a3db2c"/>
<clipPath id="tc1"><path d="M 601.5,209.6 C 601.3,205.3 602.1,199.4 604.7,195.6 C 607.4,191.8 612.3,188.4 617.1,186.6 C 621.9,184.9 628.3,184.8 633.5,185.0 C 638.7,185.1 644.4,185.2 648.3,187.4 C 652.1,189.6 655.0,194.2 656.5,198.1 C 658.0,201.9 657.2,207.4 657.2,210.4 C 657.2,213.4 657.7,213.8 656.5,216.1 C 655.3,218.4 653.8,222.4 649.9,224.4 C 646.1,226.3 639.0,227.4 633.5,227.6 C 628.0,227.9 621.7,227.0 617.1,226.0 C 612.4,224.9 608.2,223.8 605.6,221.1 C 603.0,218.3 601.6,213.8 601.5,209.6 Z"/></clipPath>
<g clip-path="url(#tc1)" stroke="#7db523" stroke-width="1.8"><line x1="549.0" y1="179.4" x2="708.4" y2="165.5"/><line x1="550.2" y1="192.4" x2="709.6" y2="178.4"/><line x1="551.3" y1="205.3" x2="710.7" y2="191.4"/><line x1="552.4" y1="218.3" x2="711.8" y2="204.3"/><line x1="553.6" y1="231.2" x2="713.0" y2="217.3"/><line x1="554.7" y1="244.2" x2="714.1" y2="230.2"/><line x1="555.8" y1="257.1" x2="715.2" y2="243.2"/></g>
<path d="M 601.5,209.6 C 601.3,205.3 602.1,199.4 604.7,195.6 C 607.4,191.8 612.3,188.4 617.1,186.6 C 621.9,184.9 628.3,184.8 633.5,185.0 C 638.7,185.1 644.4,185.2 648.3,187.4 C 652.1,189.6 655.0,194.2 656.5,198.1 C 658.0,201.9 657.2,207.4 657.2,210.4 C 657.2,213.4 657.7,213.8 656.5,216.1 C 655.3,218.4 653.8,222.4 649.9,224.4 C 646.1,226.3 639.0,227.4 633.5,227.6 C 628.0,227.9 621.7,227.0 617.1,226.0 C 612.4,224.9 608.2,223.8 605.6,221.1 C 603.0,218.3 601.6,213.8 601.5,209.6 Z" fill="none" stroke="#7ab222" stroke-width="1.8"/>
<path d="M 329.3,350.9 C 330.3,344.7 332.8,334.6 336.3,329.8 C 339.8,325.0 344.2,323.1 350.4,321.9 C 356.5,320.7 365.9,320.6 373.2,322.8 C 380.5,325.0 389.0,329.8 394.3,335.1 C 399.6,340.4 402.8,349.2 404.9,354.5 C 406.9,359.8 407.5,362.1 406.6,366.8 C 405.7,371.5 403.6,378.4 399.5,382.5 C 395.4,386.6 389.3,390.2 382.0,391.4 C 374.7,392.6 363.3,391.6 355.7,389.5 C 348.1,387.4 340.6,382.9 336.3,379.1 C 332.1,375.3 331.4,371.5 330.2,366.8 C 329.0,362.1 328.3,357.1 329.3,350.9 Z" fill="#3d6a12" opacity="0.45" filter="url(#blur2)"/>
<path d="M 328.8,348.4 C 329.8,342.2 332.3,332.1 335.8,327.3 C 339.3,322.5 343.8,320.6 349.9,319.4 C 356.0,318.2 365.4,318.1 372.7,320.3 C 380.0,322.5 388.5,327.3 393.8,332.6 C 399.1,337.9 402.3,346.7 404.4,352.0 C 406.4,357.3 407.0,359.6 406.1,364.3 C 405.2,369.0 403.1,375.9 399.0,380.0 C 394.9,384.1 388.8,387.7 381.5,388.9 C 374.2,390.1 362.8,389.1 355.2,387.0 C 347.6,384.9 340.1,380.4 335.8,376.6 C 331.6,372.8 330.9,369.0 329.7,364.3 C 328.5,359.6 327.8,354.6 328.8,348.4 Z" fill="#8ccd22"/>
<path d="M 328.8,348.4 C 329.7,343.7 332.3,332.1 335.8,327.3 C 339.3,322.5 343.8,320.6 349.9,319.4 C 356.0,318.2 365.4,318.1 372.7,320.3 C 380.0,322.5 388.5,327.3 393.8,332.6 C 399.1,337.9 402.5,347.0 404.4,352.0 C 406.3,357.0 406.5,359.0 405.0,362.5 C 403.5,366.0 401.0,370.6 395.6,373.0 C 390.2,375.4 380.9,377.2 372.7,376.6 C 364.5,376.0 353.4,373.0 346.4,369.5 C 339.4,366.0 333.4,359.0 330.5,355.5 C 327.6,352.0 327.9,353.1 328.8,348.4 Z" fill="#a3db2c"/>
<clipPath id="tc2"><path d="M 334.9,347.5 C 335.6,343.5 337.8,333.8 340.8,329.7 C 343.7,325.7 347.4,324.1 352.6,323.1 C 357.8,322.1 365.6,322.0 371.8,323.9 C 377.9,325.7 385.1,329.8 389.5,334.2 C 393.9,338.6 396.8,346.3 398.4,350.5 C 400.0,354.7 400.1,356.4 398.9,359.3 C 397.7,362.3 395.5,366.2 391.0,368.1 C 386.5,370.1 378.7,371.6 371.8,371.2 C 364.9,370.7 355.6,368.1 349.7,365.2 C 343.8,362.2 338.8,356.4 336.3,353.4 C 333.9,350.5 334.1,351.4 334.9,347.5 Z"/></clipPath>
<g clip-path="url(#tc2)" stroke="#7db523" stroke-width="1.8"><line x1="288.6" y1="386.6" x2="391.5" y2="264.0"/><line x1="298.6" y1="395.0" x2="401.4" y2="272.4"/><line x1="308.6" y1="403.3" x2="411.4" y2="280.8"/><line x1="318.5" y1="411.7" x2="421.4" y2="289.1"/><line x1="328.5" y1="420.0" x2="431.3" y2="297.5"/><line x1="338.4" y1="428.4" x2="441.3" y2="305.8"/><line x1="348.4" y1="436.8" x2="451.2" y2="314.2"/></g>
<path d="M 334.9,347.5 C 335.6,343.5 337.8,333.8 340.8,329.7 C 343.7,325.7 347.4,324.1 352.6,323.1 C 357.8,322.1 365.6,322.0 371.8,323.9 C 377.9,325.7 385.1,329.8 389.5,334.2 C 393.9,338.6 396.8,346.3 398.4,350.5 C 400.0,354.7 400.1,356.4 398.9,359.3 C 397.7,362.3 395.5,366.2 391.0,368.1 C 386.5,370.1 378.7,371.6 371.8,371.2 C 364.9,370.7 355.6,368.1 349.7,365.2 C 343.8,362.2 338.8,356.4 336.3,353.4 C 333.9,350.5 334.1,351.4 334.9,347.5 Z" fill="none" stroke="#7ab222" stroke-width="1.8"/>
<path d="M 402.3,297.5 C 402.5,291.6 404.2,280.3 406.5,274.4 C 408.8,268.5 411.0,264.4 416.0,262.1 C 421.0,259.8 429.7,259.3 436.5,260.7 C 443.3,262.1 451.1,266.4 457.0,270.3 C 462.9,274.2 468.7,279.4 472.1,283.9 C 475.5,288.4 477.3,292.7 477.5,297.5 C 477.7,302.3 476.9,308.1 473.5,312.7 C 470.1,317.3 463.2,322.6 457.0,325.0 C 450.8,327.4 443.3,327.7 436.5,327.0 C 429.7,326.3 421.2,323.8 416.0,320.9 C 410.8,318.0 407.4,313.8 405.1,309.9 C 402.8,306.0 402.1,303.4 402.3,297.5 Z" fill="#3d6a12" opacity="0.45" filter="url(#blur2)"/>
<path d="M 401.8,295.0 C 402.0,289.1 403.7,277.8 406.0,271.9 C 408.3,266.0 410.5,261.9 415.5,259.6 C 420.5,257.3 429.2,256.8 436.0,258.2 C 442.8,259.6 450.6,263.9 456.5,267.8 C 462.4,271.7 468.2,276.9 471.6,281.4 C 475.0,285.9 476.8,290.2 477.0,295.0 C 477.2,299.8 476.4,305.6 473.0,310.2 C 469.6,314.8 462.7,320.1 456.5,322.5 C 450.3,324.9 442.8,325.2 436.0,324.5 C 429.2,323.8 420.7,321.2 415.5,318.4 C 410.3,315.5 406.9,311.3 404.6,307.4 C 402.3,303.5 401.6,300.9 401.8,295.0 Z" fill="#8ccd22"/>
<path d="M 401.8,295.0 C 402.3,290.0 403.7,277.8 406.0,271.9 C 408.3,266.0 410.5,261.9 415.5,259.6 C 420.5,257.3 429.2,256.8 436.0,258.2 C 442.8,259.6 450.6,263.9 456.5,267.8 C 462.4,271.7 468.4,276.7 471.6,281.4 C 474.9,286.1 476.0,292.6 476.0,296.0 C 476.0,299.4 474.9,299.9 471.6,302.0 C 468.4,304.1 462.4,307.1 456.5,308.8 C 450.6,310.5 442.8,312.2 436.0,312.2 C 429.2,312.2 421.0,310.5 415.5,308.8 C 410.0,307.1 405.5,304.3 403.2,302.0 C 400.9,299.7 401.3,300.0 401.8,295.0 Z" fill="#a3db2c"/>
<clipPath id="tc3"><path d="M 407.5,293.0 C 407.9,288.8 409.1,278.5 411.0,273.6 C 412.9,268.6 414.8,265.2 419.0,263.2 C 423.2,261.3 430.4,260.9 436.2,262.1 C 441.9,263.2 448.4,266.9 453.4,270.1 C 458.4,273.4 463.4,277.6 466.1,281.6 C 468.8,285.5 469.8,290.9 469.8,293.8 C 469.8,296.7 468.8,297.1 466.1,298.9 C 463.4,300.7 458.4,303.1 453.4,304.6 C 448.4,306.0 441.9,307.4 436.2,307.4 C 430.4,307.4 423.6,306.0 419.0,304.6 C 414.4,303.1 410.6,300.8 408.6,298.9 C 406.7,296.9 407.1,297.2 407.5,293.0 Z"/></clipPath>
<g clip-path="url(#tc3)" stroke="#7db523" stroke-width="1.8"><line x1="358.9" y1="326.4" x2="461.8" y2="203.9"/><line x1="368.9" y1="334.8" x2="471.8" y2="212.2"/><line x1="378.9" y1="343.1" x2="481.7" y2="220.6"/><line x1="388.8" y1="351.5" x2="491.7" y2="228.9"/><line x1="398.8" y1="359.9" x2="501.6" y2="237.3"/><line x1="408.7" y1="368.2" x2="511.6" y2="245.6"/><line x1="418.7" y1="376.6" x2="521.5" y2="254.0"/></g>
<path d="M 407.5,293.0 C 407.9,288.8 409.1,278.5 411.0,273.6 C 412.9,268.6 414.8,265.2 419.0,263.2 C 423.2,261.3 430.4,260.9 436.2,262.1 C 441.9,263.2 448.4,266.9 453.4,270.1 C 458.4,273.4 463.4,277.6 466.1,281.6 C 468.8,285.5 469.8,290.9 469.8,293.8 C 469.8,296.7 468.8,297.1 466.1,298.9 C 463.4,300.7 458.4,303.1 453.4,304.6 C 448.4,306.0 441.9,307.4 436.2,307.4 C 430.4,307.4 423.6,306.0 419.0,304.6 C 414.4,303.1 410.6,300.8 408.6,298.9 C 406.7,296.9 407.1,297.2 407.5,293.0 Z" fill="none" stroke="#7ab222" stroke-width="1.8"/>
<path d="M 176.8,410.7 C 177.2,405.6 178.7,397.0 181.9,391.7 C 185.1,386.4 189.3,381.9 195.9,379.0 C 202.5,376.1 213.7,374.5 221.3,374.5 C 228.9,374.5 234.7,376.3 241.5,379.0 C 248.3,381.7 255.1,386.1 261.9,390.5 C 268.7,394.9 279.0,401.5 282.2,405.7 C 285.4,409.9 284.7,412.0 280.9,415.8 C 277.1,419.6 267.2,424.9 259.4,428.5 C 251.6,432.1 242.5,435.7 234.0,437.4 C 225.5,439.1 215.9,439.8 208.5,438.7 C 201.1,437.6 194.3,433.9 189.5,431.1 C 184.7,428.4 181.5,425.6 179.4,422.2 C 177.3,418.8 176.4,415.8 176.8,410.7 Z" fill="#3d6a12" opacity="0.45" filter="url(#blur2)"/>
<path d="M 176.3,408.2 C 176.7,403.1 178.2,394.5 181.4,389.2 C 184.6,383.9 188.8,379.4 195.4,376.5 C 202.0,373.6 213.2,372.0 220.8,372.0 C 228.4,372.0 234.2,373.8 241.0,376.5 C 247.8,379.2 254.6,383.6 261.4,388.0 C 268.2,392.4 278.5,399.0 281.7,403.2 C 284.9,407.4 284.2,409.5 280.4,413.3 C 276.6,417.1 266.7,422.4 258.9,426.0 C 251.1,429.6 242.0,433.2 233.5,434.9 C 225.0,436.6 215.4,437.2 208.0,436.2 C 200.6,435.1 193.8,431.4 189.0,428.6 C 184.2,425.9 181.0,423.1 178.9,419.7 C 176.8,416.3 175.9,413.3 176.3,408.2 Z" fill="#8ccd22"/>
<path d="M 176.3,408.2 C 176.1,404.2 178.2,394.5 181.4,389.2 C 184.6,383.9 188.8,379.4 195.4,376.5 C 202.0,373.6 213.2,372.0 220.8,372.0 C 228.4,372.0 234.2,373.8 241.0,376.5 C 247.8,379.2 254.6,383.6 261.4,388.0 C 268.2,392.4 280.0,400.2 281.7,403.2 C 283.4,406.1 276.5,404.0 271.6,405.7 C 266.7,407.4 259.9,411.0 252.5,413.3 C 245.1,415.6 235.5,418.9 227.0,419.7 C 218.5,420.5 209.1,419.5 201.7,418.4 C 194.3,417.3 186.9,415.0 182.7,413.3 C 178.5,411.6 176.5,412.2 176.3,408.2 Z" fill="#a3db2c"/>
<clipPath id="tc4"><path d="M 184.0,405.7 C 183.8,402.3 185.6,394.2 188.3,389.7 C 191.0,385.3 194.5,381.5 200.0,379.0 C 205.6,376.6 215.0,375.3 221.4,375.3 C 227.8,375.3 232.7,376.8 238.4,379.0 C 244.0,381.3 249.8,385.0 255.5,388.7 C 261.2,392.4 271.1,399.0 272.5,401.5 C 274.0,404.0 268.1,402.2 264.1,403.6 C 260.0,405.0 254.3,408.0 248.0,410.0 C 241.8,411.9 233.7,414.6 226.6,415.3 C 219.5,416.0 211.5,415.1 205.3,414.2 C 199.1,413.3 192.9,411.4 189.4,410.0 C 185.8,408.5 184.2,409.0 184.0,405.7 Z"/></clipPath>
<g clip-path="url(#tc4)" stroke="#7db523" stroke-width="1.8"><line x1="233.0" y1="310.8" x2="282.5" y2="462.9"/><line x1="220.7" y1="314.8" x2="270.1" y2="467.0"/><line x1="208.3" y1="318.8" x2="257.7" y2="471.0"/><line x1="195.9" y1="322.8" x2="245.4" y2="475.0"/><line x1="183.6" y1="326.8" x2="233.0" y2="479.0"/><line x1="171.2" y1="330.9" x2="220.6" y2="483.0"/><line x1="158.8" y1="334.9" x2="208.3" y2="487.0"/></g>
<path d="M 184.0,405.7 C 183.8,402.3 185.6,394.2 188.3,389.7 C 191.0,385.3 194.5,381.5 200.0,379.0 C 205.6,376.6 215.0,375.3 221.4,375.3 C 227.8,375.3 232.7,376.8 238.4,379.0 C 244.0,381.3 249.8,385.0 255.5,388.7 C 261.2,392.4 271.1,399.0 272.5,401.5 C 274.0,404.0 268.1,402.2 264.1,403.6 C 260.0,405.0 254.3,408.0 248.0,410.0 C 241.8,411.9 233.7,414.6 226.6,415.3 C 219.5,416.0 211.5,415.1 205.3,414.2 C 199.1,413.3 192.9,411.4 189.4,410.0 C 185.8,408.5 184.2,409.0 184.0,405.7 Z" fill="none" stroke="#7ab222" stroke-width="1.8"/>
<path d="M 457.5,417.5 C 459.8,411.4 461.1,402.8 469.1,399.3 C 477.1,395.8 493.3,396.9 505.5,396.5 C 517.7,396.1 535.5,393.4 542.2,397.2 C 548.9,401.0 546.1,411.9 545.5,419.5 C 544.9,427.1 541.8,436.2 538.5,442.5 C 535.2,448.8 531.5,453.8 526.0,457.3 C 520.5,460.8 511.8,462.3 505.5,463.5 C 499.2,464.7 494.7,465.2 488.5,464.5 C 482.3,463.8 473.7,462.0 468.5,459.5 C 463.3,457.0 459.7,453.4 457.5,449.5 C 455.3,445.6 455.2,441.1 455.2,435.8 C 455.2,430.5 455.2,423.6 457.5,417.5 Z" fill="#3d6a12" opacity="0.45" filter="url(#blur2)"/>
<path d="M 457.0,415.0 C 459.3,408.9 460.6,400.3 468.6,396.8 C 476.6,393.3 492.8,394.4 505.0,394.0 C 517.2,393.6 535.0,390.9 541.7,394.7 C 548.4,398.5 545.6,409.4 545.0,417.0 C 544.4,424.6 541.2,433.7 538.0,440.0 C 534.8,446.3 531.0,451.3 525.5,454.8 C 520.0,458.3 511.2,459.8 505.0,461.0 C 498.8,462.2 494.2,462.7 488.0,462.0 C 481.8,461.3 473.2,459.5 468.0,457.0 C 462.8,454.5 459.2,450.9 457.0,447.0 C 454.8,443.1 454.7,438.6 454.7,433.3 C 454.7,428.0 454.7,421.1 457.0,415.0 Z" fill="#8ccd22"/>
<path d="M 457.0,415.0 C 459.1,408.4 460.6,400.3 468.6,396.8 C 476.6,393.3 492.8,394.4 505.0,394.0 C 517.2,393.6 535.4,392.9 541.7,394.7 C 548.0,396.5 543.0,402.1 543.0,405.0 C 543.0,407.9 543.7,408.1 541.7,411.9 C 539.7,415.7 535.5,422.4 531.0,428.0 C 526.5,433.6 521.1,440.9 514.8,445.2 C 508.5,449.5 500.4,453.0 493.3,453.7 C 486.2,454.4 478.2,452.2 471.9,449.4 C 465.6,446.5 458.2,442.3 455.7,436.6 C 453.2,430.9 454.9,421.6 457.0,415.0 Z" fill="#a3db2c"/>
<clipPath id="tc5"><path d="M 464.2,414.9 C 466.0,409.4 467.2,402.6 474.0,399.7 C 480.7,396.7 494.3,397.6 504.5,397.3 C 514.8,397.0 530.1,396.4 535.4,397.9 C 540.7,399.4 536.5,404.1 536.5,406.5 C 536.5,409.0 537.1,409.1 535.4,412.3 C 533.7,415.6 530.2,421.2 526.4,425.9 C 522.6,430.5 518.1,436.7 512.8,440.3 C 507.5,443.9 500.7,446.9 494.7,447.5 C 488.7,448.0 482.0,446.2 476.7,443.8 C 471.5,441.5 465.2,437.9 463.1,433.1 C 461.0,428.3 462.4,420.5 464.2,414.9 Z"/></clipPath>
<g clip-path="url(#tc5)" stroke="#7db523" stroke-width="1.8"><line x1="429.4" y1="371.6" x2="587.0" y2="399.4"/><line x1="427.2" y1="384.4" x2="584.8" y2="412.2"/><line x1="424.9" y1="397.2" x2="582.5" y2="425.0"/><line x1="422.7" y1="410.0" x2="580.2" y2="437.8"/><line x1="420.4" y1="422.8" x2="578.0" y2="450.6"/><line x1="418.2" y1="435.6" x2="575.7" y2="463.4"/><line x1="415.9" y1="448.4" x2="573.5" y2="476.2"/></g>
<path d="M 464.2,414.9 C 466.0,409.4 467.2,402.6 474.0,399.7 C 480.7,396.7 494.3,397.6 504.5,397.3 C 514.8,397.0 530.1,396.4 535.4,397.9 C 540.7,399.4 536.5,404.1 536.5,406.5 C 536.5,409.0 537.1,409.1 535.4,412.3 C 533.7,415.6 530.2,421.2 526.4,425.9 C 522.6,430.5 518.1,436.7 512.8,440.3 C 507.5,443.9 500.7,446.9 494.7,447.5 C 488.7,448.0 482.0,446.2 476.7,443.8 C 471.5,441.5 465.2,437.9 463.1,433.1 C 461.0,428.3 462.4,420.5 464.2,414.9 Z" fill="none" stroke="#7ab222" stroke-width="1.8"/>
<path d="M 666.1,484.4 C 670.8,483.6 679.2,483.8 686.5,485.9 C 693.8,488.0 702.6,492.2 709.9,496.9 C 717.2,501.6 724.7,508.6 730.2,514.1 C 735.7,519.6 740.6,524.5 742.7,529.7 C 744.8,534.9 744.3,540.3 742.7,545.3 C 741.1,550.2 738.8,555.8 733.3,559.4 C 727.8,563.0 717.7,566.2 709.9,567.2 C 702.1,568.2 693.8,567.3 686.5,565.5 C 679.2,563.7 671.3,560.9 666.1,556.2 C 660.9,551.6 657.3,545.3 655.2,537.5 C 653.1,529.7 653.0,517.2 653.5,509.4 C 654.0,501.6 656.2,494.7 658.3,490.5 C 660.4,486.3 661.4,485.2 666.1,484.4 Z" fill="#3d6a12" opacity="0.45" filter="url(#blur2)"/>
<path d="M 665.6,481.9 C 670.3,481.1 678.7,481.3 686.0,483.4 C 693.3,485.5 702.1,489.7 709.4,494.4 C 716.7,499.1 724.2,506.1 729.7,511.6 C 735.2,517.1 740.1,522.0 742.2,527.2 C 744.3,532.4 743.8,537.8 742.2,542.8 C 740.6,547.8 738.3,553.2 732.8,556.9 C 727.3,560.5 717.2,563.7 709.4,564.7 C 701.6,565.7 693.3,564.8 686.0,563.0 C 678.7,561.2 670.8,558.4 665.6,553.8 C 660.4,549.1 656.8,542.8 654.7,535.0 C 652.6,527.2 652.5,514.7 653.0,506.9 C 653.5,499.1 655.7,492.2 657.8,488.0 C 659.9,483.8 660.9,482.7 665.6,481.9 Z" fill="#8ccd22"/>
<path d="M 665.6,481.9 C 670.3,481.1 678.7,481.3 686.0,483.4 C 693.3,485.5 702.1,489.7 709.4,494.4 C 716.7,499.1 724.2,506.1 729.7,511.6 C 735.2,517.1 740.4,522.8 742.2,527.2 C 744.0,531.6 743.5,534.4 740.6,538.0 C 737.7,541.6 731.5,546.6 725.0,549.0 C 718.5,551.4 709.4,552.7 701.6,552.2 C 693.8,551.7 684.5,549.4 678.0,546.0 C 671.5,542.6 666.3,537.9 662.5,531.9 C 658.7,525.9 655.8,517.3 655.0,510.0 C 654.2,502.7 656.0,492.7 657.8,488.0 C 659.6,483.3 660.9,482.7 665.6,481.9 Z" fill="#a3db2c"/>
<clipPath id="tc6"><path d="M 670.5,486.6 C 674.4,486.0 681.5,486.2 687.6,487.9 C 693.8,489.7 701.2,493.2 707.3,497.1 C 713.4,501.1 719.7,507.0 724.3,511.6 C 728.9,516.2 733.3,521.0 734.8,524.7 C 736.4,528.4 735.9,530.7 733.5,533.8 C 731.1,536.8 725.8,541.0 720.4,543.0 C 714.9,545.0 707.3,546.1 700.7,545.7 C 694.1,545.3 686.4,543.3 680.9,540.5 C 675.4,537.6 671.1,533.7 667.9,528.6 C 664.7,523.6 662.2,516.4 661.6,510.2 C 660.9,504.1 662.4,495.7 663.9,491.8 C 665.4,487.8 666.5,487.3 670.5,486.6 Z"/></clipPath>
<g clip-path="url(#tc6)" stroke="#7db523" stroke-width="1.8"><line x1="625.8" y1="568.6" x2="705.8" y2="430.0"/><line x1="637.1" y1="575.1" x2="717.1" y2="436.5"/><line x1="648.3" y1="581.6" x2="728.3" y2="443.0"/><line x1="659.6" y1="588.1" x2="739.6" y2="449.5"/><line x1="670.8" y1="594.6" x2="750.8" y2="456.0"/><line x1="682.1" y1="601.1" x2="762.1" y2="462.5"/><line x1="693.4" y1="607.6" x2="773.4" y2="469.0"/></g>
<path d="M 670.5,486.6 C 674.4,486.0 681.5,486.2 687.6,487.9 C 693.8,489.7 701.2,493.2 707.3,497.1 C 713.4,501.1 719.7,507.0 724.3,511.6 C 728.9,516.2 733.3,521.0 734.8,524.7 C 736.4,528.4 735.9,530.7 733.5,533.8 C 731.1,536.8 725.8,541.0 720.4,543.0 C 714.9,545.0 707.3,546.1 700.7,545.7 C 694.1,545.3 686.4,543.3 680.9,540.5 C 675.4,537.6 671.1,533.7 667.9,528.6 C 664.7,523.6 662.2,516.4 661.6,510.2 C 660.9,504.1 662.4,495.7 663.9,491.8 C 665.4,487.8 666.5,487.3 670.5,486.6 Z" fill="none" stroke="#7ab222" stroke-width="1.8"/>
<path d="M 484.8,591.1 C 485.2,584.5 486.4,577.8 490.5,572.3 C 494.6,566.8 502.4,561.2 509.5,558.3 C 516.5,555.4 523.8,554.4 532.8,554.8 C 541.8,555.2 554.3,557.2 563.3,560.5 C 572.3,563.8 580.1,569.4 586.7,574.5 C 593.3,579.6 600.8,586.8 603.1,591.1 C 605.5,595.4 606.6,595.8 600.8,600.5 C 594.9,605.2 579.3,614.5 568.0,619.2 C 556.7,623.9 543.7,627.5 532.8,628.5 C 521.9,629.5 509.8,627.8 502.4,625.1 C 495.0,622.4 491.2,617.9 488.3,612.2 C 485.4,606.5 484.4,597.8 484.8,591.1 Z" fill="#3d6a12" opacity="0.45" filter="url(#blur2)"/>
<path d="M 484.3,588.6 C 484.7,582.0 485.9,575.3 490.0,569.8 C 494.1,564.3 501.9,558.7 509.0,555.8 C 516.0,552.9 523.3,551.9 532.3,552.3 C 541.3,552.7 553.8,554.7 562.8,558.0 C 571.8,561.3 579.6,566.9 586.2,572.0 C 592.8,577.1 600.2,584.3 602.6,588.6 C 605.0,592.9 606.1,593.3 600.3,598.0 C 594.4,602.7 578.8,612.0 567.5,616.7 C 556.2,621.4 543.2,625.0 532.3,626.0 C 521.4,627.0 509.3,625.3 501.9,622.6 C 494.5,619.9 490.7,615.4 487.8,609.7 C 484.9,604.0 483.9,595.2 484.3,588.6 Z" fill="#8ccd22"/>
<path d="M 484.3,588.6 C 484.7,583.5 485.9,575.3 490.0,569.8 C 494.1,564.3 501.9,558.7 509.0,555.8 C 516.0,552.9 523.3,551.9 532.3,552.3 C 541.3,552.7 553.8,554.7 562.8,558.0 C 571.8,561.3 579.6,566.9 586.2,572.0 C 592.8,577.1 601.0,585.6 602.6,588.6 C 604.2,591.6 601.5,588.0 595.6,590.0 C 589.8,592.0 578.0,597.2 567.5,600.3 C 557.0,603.4 542.0,607.3 532.3,608.5 C 522.5,609.7 516.4,608.7 509.0,607.3 C 501.6,605.9 491.9,603.4 487.8,600.3 C 483.7,597.2 483.9,593.7 484.3,588.6 Z" fill="#a3db2c"/>
<clipPath id="tc7"><path d="M 492.9,586.6 C 493.2,582.4 494.3,575.4 497.7,570.9 C 501.2,566.3 507.8,561.5 513.7,559.1 C 519.6,556.6 525.7,555.8 533.3,556.2 C 540.8,556.5 551.3,558.2 558.9,560.9 C 566.4,563.7 573.0,568.4 578.5,572.7 C 584.1,577.0 591.0,584.1 592.3,586.6 C 593.6,589.2 591.3,586.2 586.4,587.8 C 581.5,589.5 571.7,593.9 562.8,596.5 C 554.0,599.1 541.4,602.4 533.3,603.4 C 525.1,604.3 519.9,603.5 513.7,602.4 C 507.5,601.2 499.3,599.1 495.9,596.5 C 492.4,593.9 492.6,590.9 492.9,586.6 Z"/></clipPath>
<g clip-path="url(#tc7)" stroke="#7db523" stroke-width="1.8"><line x1="536.2" y1="494.3" x2="603.8" y2="639.3"/><line x1="524.4" y1="499.8" x2="592.0" y2="644.8"/><line x1="512.6" y1="505.3" x2="580.2" y2="650.3"/><line x1="500.8" y1="510.8" x2="568.5" y2="655.8"/><line x1="489.1" y1="516.3" x2="556.7" y2="661.3"/><line x1="477.3" y1="521.8" x2="544.9" y2="666.8"/><line x1="465.5" y1="527.3" x2="533.1" y2="672.3"/></g>
<path d="M 492.9,586.6 C 493.2,582.4 494.3,575.4 497.7,570.9 C 501.2,566.3 507.8,561.5 513.7,559.1 C 519.6,556.6 525.7,555.8 533.3,556.2 C 540.8,556.5 551.3,558.2 558.9,560.9 C 566.4,563.7 573.0,568.4 578.5,572.7 C 584.1,577.0 591.0,584.1 592.3,586.6 C 593.6,589.2 591.3,586.2 586.4,587.8 C 581.5,589.5 571.7,593.9 562.8,596.5 C 554.0,599.1 541.4,602.4 533.3,603.4 C 525.1,604.3 519.9,603.5 513.7,602.4 C 507.5,601.2 499.3,599.1 495.9,596.5 C 492.4,593.9 492.6,590.9 492.9,586.6 Z" fill="none" stroke="#7ab222" stroke-width="1.8"/>
<path d="M 492.8,248.0 L 492.9,246.4 L 493.3,244.9 L 493.8,243.4 L 494.5,241.9 L 495.5,240.4 L 496.6,239.0 L 497.9,237.7 L 499.4,236.5 L 501.1,235.3 L 502.9,234.2 L 504.9,233.3 L 506.9,232.5 L 509.1,231.7 L 511.4,231.1 L 513.7,230.7 L 516.1,230.3 L 518.5,230.1 L 521.0,230.1 L 523.5,230.1 L 525.9,230.3 L 528.3,230.7 L 530.6,231.1 L 532.9,231.7 L 535.1,232.5 L 537.1,233.3 L 539.1,234.2 L 540.9,235.3 L 542.6,236.5 L 544.1,237.7 L 545.4,239.0 L 546.5,240.4 L 547.5,241.9 L 548.2,243.4 L 560.0,276.1 L 560.6,277.7 L 560.9,279.3 L 561.0,281.0 L 560.9,282.7 L 560.6,284.3 L 560.0,285.9 L 559.2,287.5 L 558.3,289.0 L 557.1,290.5 L 555.8,291.9 L 554.2,293.2 L 552.5,294.4 L 550.6,295.6 L 548.6,296.6 L 546.5,297.4 L 544.3,298.2 L 541.9,298.9 L 539.5,299.4 L 537.0,299.7 L 534.5,299.9 L 532.0,300.0 L 529.5,299.9 L 527.0,299.7 L 524.5,299.4 L 522.1,298.9 L 519.7,298.2 L 517.5,297.4 L 515.4,296.6 L 513.4,295.6 L 511.5,294.4 L 509.8,293.2 L 508.2,291.9 L 506.9,290.5 L 505.7,289.0 L 504.8,287.5 L 504.0,285.9 L 503.4,284.3 L 493.3,251.1 L 492.9,249.6 Z" fill="url(#redsil)"/>
<ellipse cx="521" cy="249" rx="28.8" ry="17.0" fill="#ee1c24" opacity="0.75" filter="url(#blur2)"/>
<g filter="url(#blur06)">
<ellipse cx="524.2" cy="234.7" rx="15.4" ry="4.4" fill="#1e0406"/>
<ellipse cx="522.6" cy="249.1" rx="11.5" ry="7.4" fill="#1e0406"/>
<ellipse cx="504.4" cy="246.2" rx="5.3" ry="4.1" fill="#1e0406"/>
<ellipse cx="541.5" cy="248.4" rx="5.0" ry="4.1" fill="#1e0406"/>
<ellipse cx="509.2" cy="258.2" rx="5.9" ry="4.6" fill="#1e0406"/>
<ellipse cx="533.2" cy="259.8" rx="5.6" ry="4.6" fill="#1e0406"/>
</g>
<path d="M 605.6,300.0 L 605.7,298.3 L 609.6,264.4 L 609.9,262.7 L 610.5,261.1 L 611.3,259.5 L 612.3,258.0 L 613.5,256.5 L 614.9,255.2 L 616.5,253.8 L 618.2,252.6 L 620.2,251.5 L 622.2,250.5 L 624.4,249.6 L 626.8,248.9 L 629.2,248.2 L 631.7,247.7 L 634.2,247.4 L 636.8,247.2 L 639.4,247.1 L 642.0,247.2 L 644.6,247.4 L 647.1,247.7 L 649.6,248.2 L 652.0,248.9 L 654.4,249.6 L 656.6,250.5 L 658.6,251.5 L 660.6,252.6 L 662.3,253.8 L 663.9,255.2 L 665.3,256.5 L 666.5,258.0 L 667.5,259.5 L 668.3,261.1 L 668.9,262.7 L 669.2,264.4 L 675.5,298.3 L 675.6,300.0 L 675.5,301.7 L 675.1,303.4 L 674.4,305.1 L 673.5,306.7 L 672.3,308.2 L 670.9,309.8 L 669.3,311.2 L 667.4,312.5 L 665.4,313.8 L 663.1,314.9 L 660.7,316.0 L 658.1,316.9 L 655.4,317.7 L 652.6,318.3 L 649.7,318.8 L 646.7,319.2 L 643.6,319.4 L 640.6,319.5 L 637.5,319.4 L 634.5,319.2 L 631.5,318.8 L 628.6,318.3 L 625.8,317.7 L 623.1,316.9 L 620.5,316.0 L 618.1,314.9 L 615.9,313.8 L 613.8,312.5 L 611.9,311.2 L 610.3,309.8 L 608.9,308.2 L 607.7,306.7 L 606.8,305.1 L 606.1,303.4 L 605.7,301.7 Z" fill="url(#redsil)"/>
<ellipse cx="639.4" cy="267" rx="30.6" ry="17.9" fill="#ee1c24" opacity="0.75" filter="url(#blur2)"/>
<g filter="url(#blur06)">
<ellipse cx="642.8" cy="252.0" rx="16.3" ry="4.7" fill="#1e0406"/>
<ellipse cx="641.1" cy="267.2" rx="12.2" ry="7.8" fill="#1e0406"/>
<ellipse cx="621.7" cy="264.1" rx="5.6" ry="4.3" fill="#1e0406"/>
<ellipse cx="661.2" cy="266.4" rx="5.3" ry="4.3" fill="#1e0406"/>
<ellipse cx="626.8" cy="276.7" rx="6.3" ry="4.9" fill="#1e0406"/>
<ellipse cx="652.3" cy="278.5" rx="5.9" ry="4.9" fill="#1e0406"/>
</g>
<path d="M 435.0,361.0 L 435.1,359.3 L 435.6,357.7 L 442.7,335.1 L 443.2,333.5 L 444.1,331.9 L 445.1,330.3 L 446.3,328.8 L 447.8,327.4 L 449.4,326.0 L 451.2,324.8 L 453.2,323.6 L 455.3,322.6 L 457.6,321.7 L 460.0,320.9 L 462.5,320.3 L 465.0,319.8 L 467.6,319.4 L 470.3,319.2 L 473.0,319.1 L 475.7,319.2 L 478.4,319.4 L 481.0,319.8 L 483.5,320.3 L 486.0,320.9 L 488.4,321.7 L 490.7,322.6 L 492.8,323.6 L 494.8,324.8 L 496.6,326.0 L 498.2,327.4 L 499.7,328.8 L 500.9,330.3 L 501.9,331.9 L 502.8,333.5 L 503.3,335.1 L 503.7,336.8 L 506.9,359.3 L 507.0,361.0 L 506.9,362.7 L 506.4,364.3 L 505.8,365.9 L 504.8,367.5 L 503.6,369.0 L 502.2,370.5 L 500.5,371.9 L 498.6,373.2 L 496.5,374.4 L 494.1,375.6 L 491.6,376.6 L 489.0,377.4 L 486.2,378.2 L 483.3,378.9 L 480.3,379.4 L 477.2,379.7 L 474.1,379.9 L 471.0,380.0 L 467.9,379.9 L 464.8,379.7 L 461.7,379.4 L 458.7,378.9 L 455.8,378.2 L 453.0,377.4 L 450.4,376.6 L 447.9,375.6 L 445.5,374.4 L 443.4,373.2 L 441.5,371.9 L 439.8,370.5 L 438.4,369.0 L 437.2,367.5 L 436.2,365.9 L 435.6,364.3 L 435.1,362.7 Z" fill="url(#redsil)"/>
<ellipse cx="473" cy="339.5" rx="31.5" ry="18.4" fill="#ee1c24" opacity="0.75" filter="url(#blur2)"/>
<g filter="url(#blur06)">
<ellipse cx="476.5" cy="324.1" rx="16.8" ry="4.8" fill="#1e0406"/>
<ellipse cx="474.8" cy="339.7" rx="12.6" ry="8.0" fill="#1e0406"/>
<ellipse cx="454.8" cy="336.5" rx="5.8" ry="4.4" fill="#1e0406"/>
<ellipse cx="495.4" cy="338.9" rx="5.4" ry="4.4" fill="#1e0406"/>
<ellipse cx="460.1" cy="349.5" rx="6.5" ry="5.0" fill="#1e0406"/>
<ellipse cx="486.3" cy="351.3" rx="6.1" ry="5.0" fill="#1e0406"/>
</g>
<path d="M 546.0,406.0 L 546.1,404.2 L 551.4,375.2 L 551.8,373.5 L 552.4,371.7 L 553.2,370.0 L 554.3,368.4 L 555.6,366.8 L 557.0,365.3 L 558.7,363.9 L 560.6,362.6 L 562.6,361.4 L 564.8,360.3 L 567.2,359.4 L 569.6,358.5 L 572.2,357.9 L 574.8,357.3 L 577.5,356.9 L 580.2,356.7 L 583.0,356.6 L 585.8,356.7 L 588.5,356.9 L 591.2,357.3 L 593.8,357.9 L 596.4,358.5 L 598.8,359.4 L 601.2,360.3 L 603.4,361.4 L 605.4,362.6 L 607.3,363.9 L 609.0,365.3 L 610.4,366.8 L 611.7,368.4 L 612.8,370.0 L 613.6,371.7 L 614.2,373.5 L 621.4,402.4 L 621.9,404.2 L 622.0,406.0 L 621.9,407.8 L 621.4,409.6 L 620.7,411.4 L 619.7,413.2 L 618.4,414.9 L 616.9,416.5 L 615.1,418.1 L 613.1,419.5 L 610.9,420.9 L 608.4,422.1 L 605.8,423.2 L 603.0,424.2 L 600.1,425.0 L 597.0,425.7 L 593.8,426.3 L 590.6,426.7 L 587.3,426.9 L 584.0,427.0 L 580.7,426.9 L 577.4,426.7 L 574.2,426.3 L 571.0,425.7 L 567.9,425.0 L 565.0,424.2 L 562.2,423.2 L 559.6,422.1 L 557.1,420.9 L 554.9,419.5 L 552.9,418.1 L 551.1,416.5 L 549.6,414.9 L 548.3,413.2 L 547.3,411.4 L 546.6,409.6 L 546.1,407.8 Z" fill="url(#redsil)"/>
<ellipse cx="583" cy="378" rx="32.4" ry="19.3" fill="#ee1c24" opacity="0.75" filter="url(#blur2)"/>
<g filter="url(#blur06)">
<ellipse cx="586.6" cy="361.9" rx="17.3" ry="5.0" fill="#1e0406"/>
<ellipse cx="584.8" cy="378.3" rx="13.0" ry="8.4" fill="#1e0406"/>
<ellipse cx="564.3" cy="374.9" rx="5.9" ry="4.6" fill="#1e0406"/>
<ellipse cx="606.0" cy="377.4" rx="5.6" ry="4.6" fill="#1e0406"/>
<ellipse cx="569.7" cy="388.6" rx="6.7" ry="5.2" fill="#1e0406"/>
<ellipse cx="596.7" cy="390.4" rx="6.3" ry="5.2" fill="#1e0406"/>
</g>
<path d="M 375.0,457.0 L 375.1,455.1 L 375.6,453.2 L 382.1,429.3 L 382.7,427.5 L 383.6,425.7 L 384.7,424.0 L 386.0,422.3 L 387.6,420.8 L 389.4,419.3 L 391.4,417.9 L 393.5,416.6 L 395.8,415.5 L 398.3,414.5 L 400.9,413.7 L 403.6,412.9 L 406.4,412.4 L 409.2,412.0 L 412.1,411.7 L 415.0,411.7 L 417.9,411.7 L 420.8,412.0 L 423.6,412.4 L 426.4,412.9 L 429.1,413.7 L 431.7,414.5 L 434.2,415.5 L 436.5,416.6 L 438.6,417.9 L 440.6,419.3 L 442.4,420.8 L 444.0,422.3 L 445.3,424.0 L 446.4,425.7 L 447.3,427.5 L 447.9,429.3 L 448.3,431.1 L 452.9,455.1 L 453.0,457.0 L 452.9,458.9 L 452.4,460.8 L 451.7,462.7 L 450.6,464.5 L 449.4,466.3 L 447.8,468.0 L 445.9,469.6 L 443.9,471.1 L 441.6,472.6 L 439.1,473.9 L 436.4,475.0 L 433.5,476.1 L 430.5,476.9 L 427.3,477.7 L 424.1,478.2 L 420.8,478.7 L 417.4,478.9 L 414.0,479.0 L 410.6,478.9 L 407.2,478.7 L 403.9,478.2 L 400.7,477.7 L 397.5,476.9 L 394.5,476.1 L 391.6,475.0 L 388.9,473.9 L 386.4,472.6 L 384.1,471.1 L 382.1,469.6 L 380.2,468.0 L 378.6,466.3 L 377.4,464.5 L 376.3,462.7 L 375.6,460.8 L 375.1,458.9 Z" fill="url(#redsil)"/>
<ellipse cx="415" cy="434" rx="34.2" ry="20.2" fill="#ee1c24" opacity="0.75" filter="url(#blur2)"/>
<g filter="url(#blur06)">
<ellipse cx="418.8" cy="417.2" rx="18.2" ry="5.3" fill="#1e0406"/>
<ellipse cx="416.9" cy="434.3" rx="13.7" ry="8.8" fill="#1e0406"/>
<ellipse cx="395.2" cy="430.8" rx="6.3" ry="4.8" fill="#1e0406"/>
<ellipse cx="439.3" cy="433.4" rx="5.9" ry="4.8" fill="#1e0406"/>
<ellipse cx="400.9" cy="445.1" rx="7.0" ry="5.5" fill="#1e0406"/>
<ellipse cx="429.4" cy="447.1" rx="6.6" ry="5.5" fill="#1e0406"/>
</g>
<path d="M 526.0,502.0 L 526.2,500.0 L 526.7,498.0 L 537.1,472.2 L 538.1,470.4 L 539.3,468.6 L 540.8,466.9 L 542.4,465.2 L 544.4,463.7 L 546.5,462.2 L 548.8,460.9 L 551.3,459.7 L 554.0,458.7 L 556.8,457.8 L 559.7,457.0 L 562.7,456.4 L 565.7,456.0 L 568.9,455.8 L 572.0,455.7 L 575.1,455.8 L 578.3,456.0 L 581.3,456.4 L 584.3,457.0 L 587.2,457.8 L 590.0,458.7 L 592.7,459.7 L 595.2,460.9 L 597.5,462.2 L 599.6,463.7 L 601.6,465.2 L 603.2,466.9 L 604.7,468.6 L 605.9,470.4 L 606.9,472.2 L 607.5,474.1 L 613.8,500.0 L 614.0,502.0 L 613.8,504.0 L 613.3,506.0 L 612.5,507.9 L 611.4,509.9 L 609.9,511.7 L 608.1,513.5 L 606.0,515.2 L 603.7,516.8 L 601.1,518.3 L 598.3,519.6 L 595.2,520.8 L 592.0,521.9 L 588.6,522.9 L 585.0,523.6 L 581.4,524.2 L 577.6,524.6 L 573.8,524.9 L 570.0,525.0 L 566.2,524.9 L 562.4,524.6 L 558.6,524.2 L 555.0,523.6 L 551.4,522.9 L 548.0,521.9 L 544.8,520.8 L 541.7,519.6 L 538.9,518.3 L 536.3,516.8 L 534.0,515.2 L 531.9,513.5 L 530.1,511.7 L 528.6,509.9 L 527.5,507.9 L 526.7,506.0 L 526.2,504.0 Z" fill="url(#redsil)"/>
<ellipse cx="572" cy="479" rx="36.9" ry="21.2" fill="#ee1c24" opacity="0.75" filter="url(#blur2)"/>
<g filter="url(#blur06)">
<ellipse cx="576.1" cy="461.4" rx="19.7" ry="5.5" fill="#1e0406"/>
<ellipse cx="574.0" cy="479.4" rx="14.8" ry="9.2" fill="#1e0406"/>
<ellipse cx="550.7" cy="475.7" rx="6.8" ry="5.1" fill="#1e0406"/>
<ellipse cx="598.2" cy="478.5" rx="6.4" ry="5.1" fill="#1e0406"/>
<ellipse cx="556.8" cy="490.6" rx="7.6" ry="5.8" fill="#1e0406"/>
<ellipse cx="587.6" cy="492.7" rx="7.2" ry="5.8" fill="#1e0406"/>
</g>
<path d="M 298.0,549.7 L 298.2,547.6 L 303.3,522.2 L 304.0,520.2 L 304.9,518.2 L 306.1,516.3 L 307.5,514.5 L 309.2,512.7 L 311.0,511.1 L 313.1,509.6 L 315.4,508.2 L 317.8,506.9 L 320.4,505.8 L 323.1,504.9 L 326.0,504.1 L 328.9,503.4 L 331.9,503.0 L 334.9,502.7 L 338.0,502.6 L 341.1,502.7 L 344.1,503.0 L 347.1,503.4 L 350.0,504.1 L 352.9,504.9 L 355.6,505.8 L 358.2,506.9 L 360.6,508.2 L 362.9,509.6 L 365.0,511.1 L 366.8,512.7 L 368.5,514.5 L 369.9,516.3 L 371.1,518.2 L 372.0,520.2 L 372.7,522.2 L 379.4,545.5 L 379.8,547.6 L 380.0,549.7 L 379.8,551.8 L 379.4,553.9 L 378.6,556.0 L 377.5,558.0 L 376.2,560.0 L 374.5,561.9 L 372.6,563.7 L 370.4,565.4 L 368.0,567.0 L 365.4,568.4 L 362.5,569.7 L 359.5,570.8 L 356.3,571.8 L 353.0,572.6 L 349.6,573.3 L 346.1,573.7 L 342.6,574.0 L 339.0,574.1 L 335.4,574.0 L 331.9,573.7 L 328.4,573.3 L 325.0,572.6 L 321.7,571.8 L 318.5,570.8 L 315.5,569.7 L 312.6,568.4 L 310.0,567.0 L 307.6,565.4 L 305.4,563.7 L 303.5,561.9 L 301.8,560.0 L 300.5,558.0 L 299.4,556.0 L 298.6,553.9 L 298.2,551.8 Z" fill="url(#redsil)"/>
<ellipse cx="338" cy="527.3" rx="36.0" ry="22.4" fill="#ee1c24" opacity="0.75" filter="url(#blur2)"/>
<g filter="url(#blur06)">
<ellipse cx="342.0" cy="508.7" rx="19.2" ry="5.9" fill="#1e0406"/>
<ellipse cx="340.0" cy="527.8" rx="14.4" ry="9.8" fill="#1e0406"/>
<ellipse cx="317.2" cy="523.9" rx="6.6" ry="5.4" fill="#1e0406"/>
<ellipse cx="363.6" cy="526.8" rx="6.2" ry="5.4" fill="#1e0406"/>
<ellipse cx="323.2" cy="539.7" rx="7.4" ry="6.1" fill="#1e0406"/>
<ellipse cx="353.2" cy="541.9" rx="7.0" ry="6.1" fill="#1e0406"/>
</g>
<path d="M 390.0,601.0 L 390.2,598.7 L 390.7,596.5 L 399.6,570.5 L 400.6,568.4 L 401.9,566.3 L 403.5,564.4 L 405.3,562.5 L 407.3,560.8 L 409.6,559.2 L 412.1,557.7 L 414.8,556.3 L 417.6,555.2 L 420.6,554.1 L 423.8,553.3 L 427.0,552.6 L 430.3,552.2 L 433.6,551.9 L 437.0,551.8 L 440.4,551.9 L 443.7,552.2 L 447.0,552.6 L 450.2,553.3 L 453.4,554.1 L 456.4,555.2 L 459.2,556.3 L 461.9,557.7 L 464.4,559.2 L 466.7,560.8 L 468.7,562.5 L 470.5,564.4 L 472.1,566.3 L 473.4,568.4 L 474.4,570.5 L 483.3,596.5 L 483.8,598.7 L 484.0,601.0 L 483.8,603.3 L 483.3,605.5 L 482.4,607.7 L 481.2,609.9 L 479.6,612.0 L 477.7,614.0 L 475.5,615.9 L 473.0,617.7 L 470.2,619.4 L 467.2,620.9 L 464.0,622.3 L 460.5,623.5 L 456.9,624.6 L 453.1,625.4 L 449.2,626.1 L 445.2,626.6 L 441.1,626.9 L 437.0,627.0 L 432.9,626.9 L 428.8,626.6 L 424.8,626.1 L 420.9,625.4 L 417.1,624.6 L 413.5,623.5 L 410.0,622.3 L 406.8,620.9 L 403.8,619.4 L 401.0,617.7 L 398.5,615.9 L 396.3,614.0 L 394.4,612.0 L 392.8,609.9 L 391.6,607.7 L 390.7,605.5 L 390.2,603.3 Z" fill="url(#redsil)"/>
<ellipse cx="437" cy="578" rx="39.6" ry="23.9" fill="#ee1c24" opacity="0.75" filter="url(#blur2)"/>
<g filter="url(#blur06)">
<ellipse cx="441.4" cy="558.3" rx="21.1" ry="6.2" fill="#1e0406"/>
<ellipse cx="439.2" cy="578.6" rx="15.8" ry="10.4" fill="#1e0406"/>
<ellipse cx="414.1" cy="574.4" rx="7.3" ry="5.7" fill="#1e0406"/>
<ellipse cx="465.2" cy="577.5" rx="6.8" ry="5.7" fill="#1e0406"/>
<ellipse cx="420.7" cy="591.3" rx="8.1" ry="6.5" fill="#1e0406"/>
<ellipse cx="453.7" cy="593.6" rx="7.7" ry="6.5" fill="#1e0406"/>
</g>
<g fill="#cf6431"><ellipse cx="276" cy="452" rx="7" ry="7"/><ellipse cx="292" cy="452" rx="10" ry="6"/><ellipse cx="282" cy="464" rx="9" ry="10"/><ellipse cx="297" cy="467" rx="8" ry="8" fill="#c53a35"/><ellipse cx="275" cy="470" rx="5" ry="5"/><ellipse cx="286" cy="478" rx="5" ry="5"/></g>
</g>
<rect x="170.5" y="85" width="371.5" height="57.5" rx="11" ry="11" fill="none" stroke="#6e6e6e" stroke-width="1.8"/>
<rect x="628.5" y="15.7" width="369.3" height="104.7" rx="23" ry="23" fill="none" stroke="#6e6e6e" stroke-width="1.8"/>
<rect x="68" y="200.5" width="191.5" height="57.5" rx="11" ry="11" fill="none" stroke="#6e6e6e" stroke-width="1.8"/>
<rect x="27.5" y="599.3" width="318.7" height="57.7" rx="11" ry="11" fill="rgba(255,255,255,0.22)" stroke="#6e6e6e" stroke-width="1.8"/>
<rect x="358.5" y="761.6" width="316.9" height="220.8" rx="26" ry="26" fill="none" stroke="#6e6e6e" stroke-width="1.8"/>
<path d="M 192.5,257.5 C 193.6,259.9 196.9,266.6 199.0,272.0 C 201.1,277.4 203.8,285.5 205.0,290.0 C 206.2,294.5 205.5,294.3 206.3,299.0 C 207.1,303.7 207.9,311.7 210.0,318.0 C 212.1,324.3 216.0,331.4 219.0,337.0 C 222.0,342.6 226.5,349.2 228.0,351.7 " fill="none" stroke="#1a1a1a" stroke-width="2.2" stroke-linecap="round" stroke-linejoin="round"/>
<path d="M 200.0,339.7 L 228.0,351.7 L 229.2,321.3" fill="none" stroke="#1a1a1a" stroke-width="2.2" stroke-linecap="round" stroke-linejoin="round"/>
<path d="M 398.0,142.0 C 397.2,145.0 393.9,153.7 393.0,160.0 C 392.1,166.3 391.8,174.2 392.5,180.0 C 393.2,185.8 394.8,190.6 397.5,195.0 C 400.2,199.4 403.9,201.0 409.0,206.5 C 414.1,212.0 422.7,221.9 428.0,228.0 C 433.3,234.1 436.9,238.2 440.6,243.3 C 444.3,248.4 447.6,254.2 450.0,258.6 C 452.4,263.1 453.4,265.1 455.0,270.0 C 456.6,274.9 458.0,281.1 459.3,288.3 C 460.6,295.5 462.1,308.9 462.7,313.0 " fill="none" stroke="#1a1a1a" stroke-width="2.2" stroke-linecap="round" stroke-linejoin="round"/>
<path d="M 441.5,293.8 L 462.7,313.0 L 473.6,282.8" fill="none" stroke="#1a1a1a" stroke-width="2.2" stroke-linecap="round" stroke-linejoin="round"/>
<path d="M 709.0,121.0 C 710.3,122.8 714.8,128.0 717.0,132.0 C 719.2,136.0 720.8,140.3 722.0,145.0 C 723.2,149.7 723.9,155.0 724.0,160.0 C 724.1,165.0 723.7,170.3 722.5,175.0 C 721.3,179.7 719.2,184.0 717.0,188.0 C 714.8,192.0 713.3,194.3 709.4,199.0 C 705.5,203.7 698.2,210.3 693.8,216.0 C 689.3,221.7 685.7,226.6 682.8,233.4 C 679.9,240.2 677.6,253.1 676.6,257.0 " fill="none" stroke="#1a1a1a" stroke-width="2.2" stroke-linecap="round" stroke-linejoin="round"/>
<path d="M 666.4,228.8 L 676.6,257.0 L 699.2,237.3" fill="none" stroke="#1a1a1a" stroke-width="2.2" stroke-linecap="round" stroke-linejoin="round"/>
<path d="M 184.0,599.0 C 187.5,597.7 199.3,593.8 205.0,591.0 C 210.7,588.2 214.2,586.1 218.0,582.0 C 221.8,577.9 225.2,572.0 227.5,566.5 C 229.8,561.0 230.8,553.9 232.0,549.0 C 233.2,544.1 233.6,541.9 235.0,537.0 C 236.4,532.1 237.5,525.4 240.3,519.6 C 243.1,513.8 247.5,507.8 252.0,502.0 C 256.5,496.2 264.8,487.8 267.3,485.0 " fill="none" stroke="#1a1a1a" stroke-width="2.2" stroke-linecap="round" stroke-linejoin="round"/>
<path d="M 238.0,492.7 L 267.3,485.0 L 263.8,515.0" fill="none" stroke="#1a1a1a" stroke-width="2.2" stroke-linecap="round" stroke-linejoin="round"/>
<text x="114.8" y="118.8" font-family="Liberation Sans" font-size="23.5" fill="#111" stroke="#111" stroke-width="0.4" textLength="463.5" lengthAdjust="spacingAndGlyphs" >Put snacks into cylindrical food storage box</text>
<text x="650.3" y="53" font-family="Liberation Sans" font-size="19.6" fill="#111" stroke="#111" stroke-width="0.4" textLength="313.8" lengthAdjust="spacingAndGlyphs" >Turn tracks on or off and discover</text>
<text x="650.3" y="93.8" font-family="Liberation Sans" font-size="22.9" fill="#111" stroke="#111" stroke-width="0.4" textLength="129.5" lengthAdjust="spacingAndGlyphs" >hidden cave</text>
<text x="62.2" y="236.8" font-family="Liberation Sans" font-size="30" fill="#111" stroke="#111" stroke-width="0.4" textLength="340.5" lengthAdjust="spacingAndGlyphs" >Close the food storage bin</text>
<text x="31.8" y="636.5" font-family="Liberation Sans" font-size="24.2" fill="#111" stroke="#111" stroke-width="0.4" textLength="397.5" lengthAdjust="spacingAndGlyphs" >Put snacks in the food storage bin</text>
<text x="421.8" y="823.5" font-family="Liberation Sans" font-size="32.5" fill="#2a8a78" stroke="#2a8a78" stroke-width="0" textLength="188.8" lengthAdjust="spacingAndGlyphs" >wizard of oz</text>
<text x="362.8" y="891.3" font-family="Liberation Sans" font-size="36.6" fill="#111" stroke="#111" stroke-width="0.4" textLength="305.6" lengthAdjust="spacingAndGlyphs" >Size: 36*24*3.5CM</text>
<text x="414" y="937.8" font-family="Liberation Sans" font-size="29.5" fill="#333" stroke="#333" stroke-width="0.4" textLength="181.3" lengthAdjust="spacingAndGlyphs" >Weight: 0.4kg</text></svg></body></html>
